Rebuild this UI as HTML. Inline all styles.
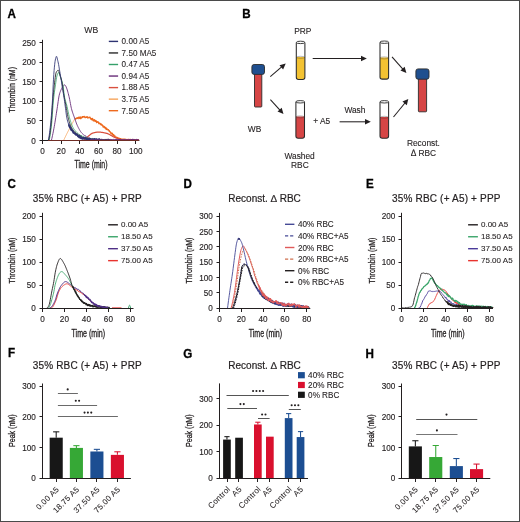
<!DOCTYPE html>
<html><head><meta charset="utf-8"><style>
html,body{margin:0;padding:0;background:#fff;width:520px;height:522px;overflow:hidden}
svg{display:block;will-change:transform}
text{font-family:"Liberation Sans", sans-serif}
</style></head><body>
<svg width="520" height="522" viewBox="0 0 520 522">
<rect x="0" y="0" width="520" height="522" fill="#ffffff"/>
<text transform="translate(7.60 17.60) scale(0.97 1)" font-size="12" text-anchor="start" font-weight="bold" fill="#000" stroke="#000" stroke-width="0.3">A</text>
<text transform="translate(242.30 18.20) scale(0.97 1)" font-size="12" text-anchor="start" font-weight="bold" fill="#000" stroke="#000" stroke-width="0.3">B</text>
<text transform="translate(7.60 188.40) scale(0.97 1)" font-size="12" text-anchor="start" font-weight="bold" fill="#000" stroke="#000" stroke-width="0.3">C</text>
<text transform="translate(183.60 188.40) scale(0.97 1)" font-size="12" text-anchor="start" font-weight="bold" fill="#000" stroke="#000" stroke-width="0.3">D</text>
<text transform="translate(366.00 188.40) scale(0.97 1)" font-size="12" text-anchor="start" font-weight="bold" fill="#000" stroke="#000" stroke-width="0.3">E</text>
<text transform="translate(8.00 357.20) scale(0.97 1)" font-size="12" text-anchor="start" font-weight="bold" fill="#000" stroke="#000" stroke-width="0.3">F</text>
<text transform="translate(183.20 357.60) scale(0.97 1)" font-size="12" text-anchor="start" font-weight="bold" fill="#000" stroke="#000" stroke-width="0.3">G</text>
<text transform="translate(365.60 357.60) scale(0.97 1)" font-size="12" text-anchor="start" font-weight="bold" fill="#000" stroke="#000" stroke-width="0.3">H</text>
<text transform="translate(91.20 32.50) scale(0.9 1)" font-size="9.6" text-anchor="middle" font-weight="normal" fill="#231f20" stroke="#231f20" stroke-width="0.12">WB</text>
<polyline points="63.80,140.00 64.15,139.26 64.50,138.53 64.85,137.81 65.20,137.08 65.55,136.36 65.90,135.65 66.25,134.94 66.60,134.23 66.95,133.53 67.30,132.83 67.65,132.13 68.00,131.44 68.35,130.76 68.70,130.08 69.05,129.40 69.40,128.73 69.75,128.06 70.10,127.40 70.45,126.74 70.80,126.08 71.15,125.43 71.50,124.78 71.85,124.13 72.20,123.49 72.55,122.85 72.90,122.22 73.25,121.59 73.60,120.96 73.95,120.34 74.30,119.72 74.65,119.11 75.00,118.50" fill="none" stroke="#f6a45c" stroke-width="0.8" stroke-linejoin="round" />
<polyline points="75.00,118.41 75.35,118.56 75.70,119.16 76.05,118.28 76.40,118.31 76.75,118.40 77.10,117.62 77.45,118.16 77.80,118.33 78.15,118.57 78.50,117.27 78.85,117.60 79.20,117.17 79.55,118.41 79.90,118.16 80.25,116.94 80.60,118.59 80.95,118.51 81.30,117.90 81.65,117.77 82.00,116.90 82.35,116.59 82.70,117.46 83.05,116.56 83.40,116.75 83.75,116.79 84.10,116.36 84.45,117.10 84.80,117.02 85.15,117.71 85.50,117.10 85.85,117.29 86.20,117.02 86.55,117.30 86.90,116.92 87.25,116.61 87.60,117.95 87.95,118.02 88.30,117.84 88.65,117.73 89.00,117.17 89.35,117.18 89.70,117.47 90.05,117.27 90.40,118.72 90.75,118.26 91.10,119.27 91.45,118.64 91.80,119.86 92.15,119.85 92.50,118.50 92.85,119.06 93.20,120.50 93.55,119.90 93.90,121.01 94.25,120.16 94.60,119.78 94.95,120.99 95.30,121.47 95.65,120.76 96.00,120.64 96.35,121.30 96.70,122.65 97.05,122.50 97.40,121.56 97.75,122.01 98.10,121.97 98.45,122.11 98.80,123.66 99.15,122.77 99.50,123.69 99.85,123.72 100.20,123.48 100.55,124.69 100.90,123.85 101.25,125.01 101.60,124.31 101.95,125.10 102.30,124.97 102.65,125.33 103.00,126.85 103.35,126.81 103.70,126.18 104.05,127.49 104.40,126.56 104.75,127.17 105.10,128.28 105.45,128.19 105.80,127.50 106.15,129.40 106.50,128.30 106.85,128.68 107.20,129.90 107.55,129.40 107.90,129.65 108.25,129.55 108.60,129.88 108.95,131.06 109.30,130.75 109.65,131.69 110.00,131.57 110.35,132.02 110.70,133.24 111.05,132.71 111.40,133.21 111.75,134.07 112.10,133.18 112.45,133.48 112.80,135.18 113.15,135.36 113.50,134.67 113.85,134.89 114.20,136.20 114.55,136.87 114.90,135.82 115.25,136.90 115.60,137.11 115.95,137.18 116.30,137.27 116.65,137.25 117.00,137.36 117.35,138.05 117.70,137.75 118.05,138.17 118.40,138.02 118.75,138.49 119.10,138.47 119.45,138.40 119.80,138.44 120.15,138.87 120.50,138.58 120.85,138.77 121.20,139.05 121.55,139.30 121.90,139.23 122.25,139.09 122.60,139.53 122.95,139.15 123.30,139.07 123.65,139.25 124.00,139.38 124.35,139.17 124.70,139.25 125.05,139.39 125.40,139.52 125.75,139.28 126.10,139.43 126.45,139.76 126.80,139.83 127.15,139.65 127.50,139.69 127.85,139.64 128.20,139.38 128.55,139.33 128.90,139.34 129.25,139.88 129.60,139.77 129.95,139.94 130.30,139.38 130.65,139.76 131.00,139.68 131.35,139.84 131.70,139.60 132.05,140.00 132.40,139.47 132.75,139.76 133.10,139.88 133.45,139.99 133.80,139.90 134.15,139.88 134.50,139.94 134.85,140.00 135.20,139.69 135.55,139.89 135.90,140.00 136.25,140.00 136.60,139.74 136.95,139.97 137.30,140.00 137.65,139.84 138.00,139.87 138.35,139.73 138.70,139.85" fill="none" stroke="#ee6a1f" stroke-width="1.3" stroke-linejoin="round" />
<polyline points="84.00,139.80 84.35,139.49 84.70,139.19 85.05,138.89 85.40,138.59 85.75,138.30 86.10,138.01 86.45,137.72 86.80,137.44 87.15,137.16 87.50,136.88 87.85,136.61 88.20,136.35 88.55,136.07 88.90,135.78 89.25,135.48 89.60,135.19 89.95,134.89 90.30,134.60 90.65,134.32 91.00,134.06 91.35,133.81 91.70,133.59 92.05,133.39 92.40,133.22 92.75,133.08 93.10,132.97 93.45,132.88 93.80,132.79 94.15,132.71 94.50,132.62 94.85,132.54 95.20,132.47 95.55,132.40 95.90,132.34 96.25,132.28 96.60,132.23 96.95,132.19 97.30,132.15 97.65,132.13 98.00,132.11 98.35,132.10 98.70,132.10 99.05,132.11 99.40,132.12 99.75,132.14 100.10,132.17 100.45,132.20 100.80,132.23 101.15,132.27 101.50,132.32 101.85,132.37 102.20,132.42 102.55,132.48 102.90,132.54 103.25,132.60 103.60,132.67 103.95,132.74 104.30,132.81 104.65,132.89 105.00,132.96 105.35,133.04 105.70,133.12 106.05,133.20 106.40,133.28 106.75,133.36 107.10,133.46 107.45,133.58 107.80,133.72 108.15,133.86 108.50,134.02 108.85,134.20 109.20,134.38 109.55,134.56 109.90,134.76 110.25,134.96 110.60,135.16 110.95,135.37 111.30,135.57 111.65,135.78 112.00,135.98 112.35,136.18 112.70,136.38 113.05,136.57 113.40,136.75 113.75,136.93 114.10,137.09 114.45,137.24 114.80,137.38 115.15,137.52 115.50,137.67 115.85,137.83 116.20,137.98 116.55,138.13 116.90,138.29 117.25,138.44 117.60,138.59 117.95,138.73 118.30,138.87 118.65,139.00 119.00,139.12 119.35,139.23 119.70,139.32 120.05,139.41 120.40,139.48 120.75,139.54 121.10,139.58 121.45,139.60 121.80,139.61 122.15,139.62 122.50,139.62 122.85,139.63 123.20,139.64 123.55,139.65 123.90,139.66 124.25,139.66 124.60,139.67 124.95,139.68 125.30,139.68 125.65,139.69 126.00,139.70 126.35,139.70 126.70,139.71 127.05,139.71 127.40,139.72 127.75,139.72 128.10,139.73 128.45,139.73 128.80,139.74 129.15,139.74 129.50,139.75 129.85,139.75 130.20,139.76 130.55,139.76 130.90,139.76 131.25,139.77 131.60,139.77 131.95,139.77 132.30,139.77 132.65,139.78 133.00,139.78 133.35,139.78 133.70,139.78 134.05,139.79 134.40,139.79 134.75,139.79 135.10,139.79 135.45,139.79 135.80,139.79 136.15,139.80 136.50,139.80 136.85,139.80 137.20,139.80 137.55,139.80 137.90,139.80 138.25,139.80 138.60,139.80 138.95,139.80" fill="none" stroke="#d9503f" stroke-width="1.25" stroke-linejoin="round" />
<polyline points="51.50,140.00 51.85,138.51 52.20,136.95 52.55,135.33 52.90,133.65 53.25,131.91 53.60,130.12 53.95,128.27 54.30,126.34 54.65,124.31 55.00,122.19 55.35,120.00 55.70,117.77 56.05,115.51 56.40,113.25 56.75,111.01 57.10,108.80 57.45,106.50 57.80,104.04 58.15,101.55 58.50,99.17 58.85,97.01 59.20,95.22 59.55,93.87 59.90,92.73 60.25,91.72 60.60,90.82 60.95,90.01 61.30,89.28 61.65,88.59 62.00,87.96 62.35,87.37 62.70,86.83 63.05,86.34 63.40,85.91 63.75,85.50 64.10,85.09 64.45,84.83 64.80,84.86 65.15,85.19 65.50,85.70 65.85,86.25 66.20,87.00 66.55,87.91 66.90,88.90 67.25,89.95 67.60,91.10 67.95,92.34 68.30,93.65 68.65,95.03 69.00,96.46 69.35,97.96 69.70,99.66 70.05,101.52 70.40,103.44 70.75,105.33 71.10,107.08 71.45,108.61 71.80,109.90 72.15,111.08 72.50,112.19 72.85,113.22 73.20,114.22 73.55,115.19 73.90,116.16 74.25,117.14 74.60,118.15 74.95,119.16 75.30,120.17 75.65,121.16 76.00,122.14 76.35,123.09 76.70,124.00 77.05,124.86 77.40,125.66 77.75,126.40 78.10,127.11 78.45,127.79 78.80,128.47 79.15,129.12 79.50,129.74 79.85,130.35 80.20,130.92 80.55,131.46 80.90,131.96 81.25,132.43 81.60,132.86 81.95,133.25 82.30,133.60 82.65,133.93 83.00,134.25 83.35,134.55 83.70,134.83 84.05,135.10 84.40,135.36 84.75,135.61 85.10,135.95 85.45,135.64 85.80,136.42 86.15,136.98 86.50,137.06 86.85,137.10 87.20,136.95 87.55,137.49 87.90,137.52 88.25,137.57 88.60,138.15 88.95,137.57 89.30,138.40 89.65,137.84 90.00,138.56 90.35,138.58 90.70,138.45 91.05,139.02 91.40,138.91 91.75,139.09 92.10,139.45 92.45,138.83 92.80,138.63 93.15,138.96 93.50,139.37 93.85,138.94 94.20,138.94 94.55,139.71 94.90,139.50 95.25,139.31 95.60,139.79 95.95,139.25 96.30,139.61 96.65,139.17 97.00,139.42 97.35,139.82 97.70,139.94 98.05,139.93 98.40,139.44 98.75,139.66 99.10,139.40 99.45,139.23 99.80,139.59 100.15,139.94 100.50,139.95 100.85,139.82 101.20,140.00 101.55,139.40 101.90,139.29 102.25,139.58 102.60,139.41 102.95,139.35 103.30,139.55 103.65,139.77 104.00,139.64 104.35,139.46 104.70,139.99 105.05,140.00 105.40,139.61 105.75,139.24 106.10,139.20 106.45,140.00 106.80,139.21 107.15,139.88 107.50,139.75 107.85,139.49 108.20,139.98 108.55,139.21 108.90,139.33 109.25,139.65 109.60,139.22 109.95,140.00 110.30,139.44 110.65,139.35 111.00,139.25 111.35,139.84 111.70,139.66 112.05,139.85 112.40,139.87 112.75,140.00 113.10,140.00 113.45,139.91 113.80,139.43 114.15,139.71 114.50,139.41 114.85,139.25 115.20,139.71 115.55,139.95 115.90,139.42 116.25,139.52 116.60,139.59 116.95,139.94 117.30,139.77 117.65,139.87 118.00,140.00 118.35,139.65 118.70,140.00 119.05,140.00 119.40,139.35 119.75,140.00 120.10,139.99 120.45,139.39 120.80,139.72 121.15,139.89 121.50,140.00 121.85,139.65 122.20,139.84 122.55,140.00 122.90,140.00 123.25,140.00 123.60,139.74 123.95,139.93 124.30,139.48 124.65,140.00 125.00,140.00 125.35,139.92 125.70,140.00 126.05,139.50 126.40,140.00 126.75,140.00 127.10,140.00 127.45,139.82 127.80,140.00 128.15,139.61 128.50,140.00 128.85,140.00 129.20,139.64 129.55,139.38 129.90,139.73 130.25,139.84 130.60,140.00 130.95,139.78 131.30,139.32 131.65,140.00 132.00,139.36 132.35,140.00 132.70,139.47 133.05,139.63 133.40,140.00 133.75,139.44 134.10,139.45 134.45,139.82 134.80,140.00 135.15,140.00 135.50,139.99 135.85,140.00 136.20,139.79 136.55,140.00 136.90,139.39 137.25,139.52 137.60,139.83 137.95,139.59" fill="none" stroke="#682c78" stroke-width="0.9" stroke-linejoin="round" />
<polyline points="49.20,140.00 49.55,138.62 49.90,136.83 50.25,134.69 50.60,132.26 50.95,129.58 51.30,126.71 51.65,123.59 52.00,119.56 52.35,114.85 52.70,109.89 53.05,105.13 53.40,101.00 53.75,97.69 54.10,94.71 54.45,91.97 54.80,89.42 55.15,87.00 55.50,84.65 55.85,82.22 56.20,79.87 56.55,77.76 56.90,76.04 57.25,74.87 57.60,73.96 57.95,73.19 58.30,72.66 58.65,72.51 59.00,72.92 59.35,73.80 59.70,74.92 60.05,76.06 60.40,77.04 60.75,77.97 61.10,78.90 61.45,79.87 61.80,80.90 62.15,82.04 62.50,83.32 62.85,84.78 63.20,86.72 63.55,89.39 63.90,92.34 64.25,95.12 64.60,97.30 64.95,98.87 65.30,100.21 65.65,101.40 66.00,102.53 66.35,103.70 66.70,105.00 67.05,106.47 67.40,108.06 67.75,109.72 68.10,111.42 68.45,113.11 68.80,114.77 69.15,116.33 69.50,117.77 69.85,119.03 70.20,120.17 70.55,121.27 70.90,122.33 71.25,123.35 71.60,124.32 71.95,125.23 72.30,126.08 72.65,126.85 73.00,127.55 73.35,128.16 73.70,128.70 74.05,129.20 74.40,129.69 74.75,130.15 75.10,130.59 75.45,131.01 75.80,131.41 76.15,131.80 76.50,132.16 76.85,132.51 77.20,132.83 77.55,133.15 77.90,133.44 78.25,133.95 78.60,134.13 78.95,134.27 79.30,134.83 79.65,134.77 80.00,134.73 80.35,135.01 80.70,135.68 81.05,135.93 81.40,135.43 81.75,136.27 82.10,136.57 82.45,136.30 82.80,136.52 83.15,136.31 83.50,136.81 83.85,136.93 84.20,137.18 84.55,136.75 84.90,137.83 85.25,137.51 85.60,137.51 85.95,138.03 86.30,137.91 86.65,137.94 87.00,138.24 87.35,137.71 87.70,138.27 88.05,138.22 88.40,138.84 88.75,138.89 89.10,138.31 89.45,138.58 89.80,138.31 90.15,138.68 90.50,139.13 90.85,139.28 91.20,138.92 91.55,138.82 91.90,138.76 92.25,139.24 92.60,139.60 92.95,138.85 93.30,139.55 93.65,138.83 94.00,139.04 94.35,139.11 94.70,139.60 95.05,139.27 95.40,139.32 95.75,139.61 96.10,139.11 96.45,139.75 96.80,139.15 97.15,139.56 97.50,139.31 97.85,139.27 98.20,139.61 98.55,139.53 98.90,139.48 99.25,139.53 99.60,139.66 99.95,139.30 100.30,139.35 100.65,139.79 101.00,139.81 101.35,139.71 101.70,140.00 102.05,139.81 102.40,140.00 102.75,139.45 103.10,139.96 103.45,140.00 103.80,140.00 104.15,139.56 104.50,139.57 104.85,140.00 105.20,139.48 105.55,140.00 105.90,140.00 106.25,139.41 106.60,139.52 106.95,140.00 107.30,139.55 107.65,139.39 108.00,140.00 108.35,139.72 108.70,140.00 109.05,139.42 109.40,139.70 109.75,139.99" fill="none" stroke="#35a06a" stroke-width="0.8" stroke-linejoin="round" />
<polyline points="48.60,140.00 48.95,138.93 49.30,137.36 49.65,135.37 50.00,133.02 50.35,130.40 50.70,127.55 51.05,124.55 51.40,120.69 51.75,115.88 52.10,110.58 52.45,105.27 52.80,100.40 53.15,96.35 53.50,92.61 53.85,89.07 54.20,85.80 54.55,82.82 54.90,80.16 55.25,77.51 55.60,75.05 55.95,73.13 56.30,72.11 56.65,71.55 57.00,71.06 57.35,70.68 57.70,70.40 58.05,70.24 58.40,70.23 58.75,70.76 59.10,71.77 59.45,73.03 59.80,74.33 60.15,75.46 60.50,76.55 60.85,77.67 61.20,78.89 61.55,80.26 61.90,81.86 62.25,83.85 62.60,86.13 62.95,88.59 63.30,91.10 63.65,93.56 64.00,95.83 64.35,97.82 64.70,99.62 65.05,101.33 65.40,103.02 65.75,104.75 66.10,106.59 66.45,108.57 66.80,110.60 67.15,112.63 67.50,114.58 67.85,116.40 68.20,118.02 68.55,119.38 68.90,120.59 69.25,121.73 69.60,122.82 69.95,123.84 70.30,124.80 70.65,125.68 71.00,126.50 71.35,127.24 71.70,127.90 72.05,128.48 72.40,129.01 72.75,129.53 73.10,130.02 73.45,130.49 73.80,130.93 74.15,131.36 74.50,131.76 74.85,132.15 75.20,131.93 75.55,132.50 75.90,133.41 76.25,133.99 76.60,134.35 76.95,133.61 77.30,134.33 77.65,134.88 78.00,134.80 78.35,135.24 78.70,134.86 79.05,134.93 79.40,135.18 79.75,135.29 80.10,136.10 80.45,136.25 80.80,136.50 81.15,136.16 81.50,136.38 81.85,136.57 82.20,137.49 82.55,137.82 82.90,137.88 83.25,137.02 83.60,137.11 83.95,138.30 84.30,137.82 84.65,138.29 85.00,137.86 85.35,138.12 85.70,138.26 86.05,138.23 86.40,138.50 86.75,137.86 87.10,138.75 87.45,138.98 87.80,138.24 88.15,138.63 88.50,139.03 88.85,138.68 89.20,138.48 89.55,138.50 89.90,138.96 90.25,138.42 90.60,139.51 90.95,139.45 91.30,139.37 91.65,139.60 92.00,139.36 92.35,139.13 92.70,139.40 93.05,139.32 93.40,139.92 93.75,139.74 94.10,139.11 94.45,139.91 94.80,139.73 95.15,139.79 95.50,139.86 95.85,139.38 96.20,139.98 96.55,139.98 96.90,139.77 97.25,139.87 97.60,139.88 97.95,139.46 98.30,139.85 98.65,139.08 99.00,139.42 99.35,139.58 99.70,139.04 100.05,139.46 100.40,139.81 100.75,139.81 101.10,139.35 101.45,140.00 101.80,139.89 102.15,139.50 102.50,139.90 102.85,139.80 103.20,139.76 103.55,139.60 103.90,140.00 104.25,139.91 104.60,139.99 104.95,140.00 105.30,140.00 105.65,139.19 106.00,139.91 106.35,140.00 106.70,139.49 107.05,139.67 107.40,139.25 107.75,139.43 108.10,139.64 108.45,139.31 108.80,139.50 109.15,140.00 109.50,139.86 109.85,139.81" fill="none" stroke="#2a2a2a" stroke-width="0.9" stroke-linejoin="round" />
<polyline points="48.40,140.00 48.70,138.53 49.00,136.80 49.30,134.81 49.60,132.61 49.90,130.22 50.20,127.68 50.50,125.00 50.80,122.13 51.10,118.97 51.40,115.51 51.70,111.73 52.00,107.63 52.30,103.17 52.60,98.23 52.90,91.72 53.20,84.82 53.50,79.21 53.80,74.47 54.10,70.44 54.40,67.17 54.70,64.24 55.00,61.78 55.30,60.00 55.60,58.65 55.90,57.47 56.20,56.62 56.50,56.30 56.80,56.75 57.10,57.83 57.40,59.16 57.70,60.39 58.00,61.64 58.30,63.01 58.60,64.50 58.90,66.20 59.20,68.07 59.50,69.89 59.80,71.65 60.10,73.40 60.40,75.14 60.70,76.92 61.00,78.74 61.30,80.65 61.60,82.71 61.90,84.82 62.20,86.86 62.50,88.72 62.80,90.44 63.10,92.09 63.40,93.74 63.70,95.45 64.00,97.30 64.30,99.35 64.60,101.55 64.90,103.80 65.20,106.00 65.50,108.24 65.80,110.60 66.10,112.96 66.40,115.19 66.70,117.17 67.00,118.77 67.30,119.98 67.60,121.08 67.90,122.09 68.20,123.03 68.50,123.90 68.80,124.71 69.10,125.45 69.40,126.13 69.70,126.77 70.00,127.35 70.30,127.90 70.60,128.40 70.90,128.88 71.20,129.34 71.50,129.78 71.80,130.21 72.10,130.62 72.40,131.01 72.70,131.39 73.00,131.75 73.30,132.10 73.60,132.43 73.90,132.74 74.20,133.05 74.50,133.33 74.80,133.61 75.10,133.87 75.40,134.12 75.70,134.36 76.00,134.59 76.30,134.80 76.60,135.01 76.90,135.21 77.20,135.41 77.50,135.60 77.80,135.79 78.10,135.98 78.40,136.16 78.70,136.33 79.00,136.50 79.30,136.67 79.60,136.83 79.90,136.98 80.20,137.13 80.50,137.27 80.80,137.41 81.10,137.54 81.40,137.66 81.70,137.78 82.00,137.89 82.30,137.99 82.60,138.08 82.90,138.17 83.20,138.25 83.50,138.32 83.80,138.39 84.10,138.46 84.40,138.53 84.70,138.60 85.00,138.66 85.30,138.72 85.60,138.78 85.90,138.84 86.20,138.90 86.50,138.96 86.80,139.01 87.10,139.07 87.40,139.12 87.70,139.17 88.00,139.21 88.30,139.26 88.60,139.30 88.90,139.34 89.20,139.38 89.50,139.41 89.80,139.44 90.10,139.47 90.40,139.50 90.70,139.53 91.00,139.55 91.30,139.57 91.60,139.59 91.90,139.60 92.20,139.61 92.50,139.62 92.80,139.64 93.10,139.65 93.40,139.66 93.70,139.67 94.00,139.68 94.30,139.69 94.60,139.70 94.90,139.71 95.20,139.72 95.50,139.73 95.80,139.74 96.10,139.75 96.40,139.75 96.70,139.76 97.00,139.77 97.30,139.77 97.60,139.78 97.90,139.78 98.20,139.79 98.50,139.79 98.80,139.79 99.10,139.80 99.40,139.80 99.70,139.80 100.00,139.80" fill="none" stroke="#2e3372" stroke-width="0.85" stroke-linejoin="round" />
<polyline points="68.50,124.34 68.80,124.42 69.10,125.98 69.40,126.11 69.70,127.14 70.00,126.50 70.30,128.05 70.60,128.87 70.90,128.05 71.20,130.10 71.50,129.16 71.80,130.14 72.10,130.00 72.40,130.98 72.70,131.57 73.00,130.94 73.30,132.88 73.60,132.27 73.90,132.78 74.20,133.21 74.50,133.08 74.80,133.22 75.10,134.15 75.40,134.23 75.70,133.97 76.00,134.98 76.30,134.43 76.60,134.13 76.90,134.75 77.20,134.58 77.50,134.98 77.80,136.25 78.10,135.78 78.40,136.87 78.70,136.78 79.00,135.69 79.30,137.55 79.60,137.63 79.90,136.21 80.20,137.86 80.50,137.14 80.80,137.37 81.10,138.39 81.40,137.20 81.70,137.82 82.00,138.67 82.30,138.39 82.60,138.03 82.90,139.03 83.20,138.82 83.50,138.51 83.80,137.70 84.10,138.69 84.40,138.45 84.70,138.06 85.00,137.85 85.30,138.77 85.60,138.11 85.90,138.74 86.20,139.20 86.50,138.88 86.80,138.59 87.10,139.21 87.40,138.97 87.70,139.67 88.00,139.27 88.30,140.00 88.60,140.00 88.90,139.76 89.20,138.90 89.50,138.72 89.80,140.00 90.10,139.99 90.40,139.73 90.70,139.27 91.00,139.14 91.30,139.90 91.60,139.70 91.90,139.77 92.20,139.85 92.50,140.00 92.80,139.08 93.10,139.20 93.40,140.00 93.70,140.00 94.00,140.00 94.30,138.86 94.60,138.91 94.90,139.30 95.20,139.59 95.50,139.95 95.80,139.02 96.10,139.82 96.40,138.98 96.70,139.02 97.00,140.00 97.30,139.86 97.60,140.00 97.90,139.56 98.20,139.75 98.50,139.27 98.80,139.51 99.10,140.00 99.40,140.00 99.70,139.03 100.00,139.12" fill="none" stroke="#2e3372" stroke-width="1.7" stroke-linejoin="round" />
<polyline points="90.00,139.91 90.35,139.73 90.70,139.87 91.05,139.32 91.40,139.53 91.75,139.37 92.10,139.92 92.45,139.48 92.80,139.77 93.15,140.00 93.50,139.44 93.85,139.66 94.20,139.86 94.55,140.00 94.90,139.55 95.25,139.49 95.60,139.22 95.95,140.00 96.30,139.20 96.65,139.21 97.00,139.69 97.35,139.61 97.70,139.82 98.05,139.43 98.40,139.91 98.75,139.21 99.10,139.35 99.45,139.80 99.80,139.22 100.15,139.45 100.50,139.87 100.85,139.84 101.20,139.43 101.55,139.29 101.90,139.51 102.25,139.88 102.60,139.52 102.95,139.27 103.30,139.86 103.65,139.72 104.00,140.00 104.35,140.00 104.70,140.00 105.05,139.60 105.40,139.97 105.75,139.47 106.10,139.48 106.45,139.57 106.80,140.00 107.15,140.00 107.50,139.42 107.85,139.53 108.20,139.54 108.55,139.54 108.90,139.57 109.25,139.57 109.60,139.37 109.95,139.75 110.30,139.98 110.65,139.72 111.00,140.00 111.35,139.75 111.70,139.37 112.05,139.95 112.40,140.00 112.75,139.47 113.10,139.22 113.45,139.71 113.80,139.74 114.15,139.77 114.50,140.00 114.85,139.85 115.20,140.00 115.55,139.27 115.90,139.75 116.25,140.00 116.60,139.29 116.95,139.29 117.30,139.95 117.65,140.00 118.00,139.30 118.35,139.85 118.70,139.36 119.05,139.96 119.40,139.87 119.75,139.47 120.10,139.44 120.45,139.99 120.80,139.75 121.15,139.99 121.50,139.62 121.85,139.57 122.20,140.00 122.55,139.91 122.90,139.73 123.25,139.77 123.60,139.96 123.95,139.95 124.30,140.00 124.65,139.65 125.00,140.00 125.35,139.91 125.70,140.00 126.05,140.00 126.40,140.00 126.75,140.00 127.10,140.00 127.45,139.89 127.80,139.78 128.15,139.97 128.50,140.00 128.85,139.68 129.20,139.68 129.55,139.41 129.90,140.00 130.25,140.00 130.60,139.64 130.95,139.43 131.30,139.47 131.65,139.69 132.00,139.56 132.35,140.00 132.70,139.33 133.05,139.58 133.40,139.39 133.75,139.93 134.10,140.00 134.45,139.46 134.80,139.35 135.15,139.74 135.50,139.87 135.85,140.00 136.20,139.32 136.55,139.40 136.90,139.48 137.25,139.51 137.60,139.53 137.95,140.00 138.30,139.89 138.65,139.52 139.00,139.48" fill="none" stroke="#682c78" stroke-width="0.9" stroke-linejoin="round" />
<line x1="42.50" y1="39.80" x2="42.50" y2="141.00" stroke="#231f20" stroke-width="1.0" />
<line x1="39.50" y1="140.50" x2="42.50" y2="140.50" stroke="#231f20" stroke-width="1.0" />
<text transform="translate(35.90 143.50) scale(0.93 1)" font-size="8.8" text-anchor="end" font-weight="normal" fill="#231f20" stroke="#231f20" stroke-width="0.14">0</text>
<line x1="39.50" y1="120.50" x2="42.50" y2="120.50" stroke="#231f20" stroke-width="1.0" />
<text transform="translate(35.90 123.90) scale(0.93 1)" font-size="8.8" text-anchor="end" font-weight="normal" fill="#231f20" stroke="#231f20" stroke-width="0.14">50</text>
<line x1="39.50" y1="101.50" x2="42.50" y2="101.50" stroke="#231f20" stroke-width="1.0" />
<text transform="translate(35.90 104.30) scale(0.93 1)" font-size="8.8" text-anchor="end" font-weight="normal" fill="#231f20" stroke="#231f20" stroke-width="0.14">100</text>
<line x1="39.50" y1="81.50" x2="42.50" y2="81.50" stroke="#231f20" stroke-width="1.0" />
<text transform="translate(35.90 84.70) scale(0.93 1)" font-size="8.8" text-anchor="end" font-weight="normal" fill="#231f20" stroke="#231f20" stroke-width="0.14">150</text>
<line x1="39.50" y1="62.50" x2="42.50" y2="62.50" stroke="#231f20" stroke-width="1.0" />
<text transform="translate(35.90 65.10) scale(0.93 1)" font-size="8.8" text-anchor="end" font-weight="normal" fill="#231f20" stroke="#231f20" stroke-width="0.14">200</text>
<line x1="39.50" y1="42.50" x2="42.50" y2="42.50" stroke="#231f20" stroke-width="1.0" />
<text transform="translate(35.90 45.50) scale(0.93 1)" font-size="8.8" text-anchor="end" font-weight="normal" fill="#231f20" stroke="#231f20" stroke-width="0.14">250</text>
<line x1="42.00" y1="140.50" x2="139.40" y2="140.50" stroke="#231f20" stroke-width="1.0" />
<line x1="42.50" y1="140.50" x2="42.50" y2="144.00" stroke="#231f20" stroke-width="1.0" />
<text transform="translate(42.50 154.10) scale(0.93 1)" font-size="8.8" text-anchor="middle" font-weight="normal" fill="#231f20" stroke="#231f20" stroke-width="0.14">0</text>
<line x1="61.50" y1="140.50" x2="61.50" y2="144.00" stroke="#231f20" stroke-width="1.0" />
<text transform="translate(61.14 154.10) scale(0.93 1)" font-size="8.8" text-anchor="middle" font-weight="normal" fill="#231f20" stroke="#231f20" stroke-width="0.14">20</text>
<line x1="79.50" y1="140.50" x2="79.50" y2="144.00" stroke="#231f20" stroke-width="1.0" />
<text transform="translate(79.78 154.10) scale(0.93 1)" font-size="8.8" text-anchor="middle" font-weight="normal" fill="#231f20" stroke="#231f20" stroke-width="0.14">40</text>
<line x1="98.50" y1="140.50" x2="98.50" y2="144.00" stroke="#231f20" stroke-width="1.0" />
<text transform="translate(98.42 154.10) scale(0.93 1)" font-size="8.8" text-anchor="middle" font-weight="normal" fill="#231f20" stroke="#231f20" stroke-width="0.14">60</text>
<line x1="117.50" y1="140.50" x2="117.50" y2="144.00" stroke="#231f20" stroke-width="1.0" />
<text transform="translate(117.06 154.10) scale(0.93 1)" font-size="8.8" text-anchor="middle" font-weight="normal" fill="#231f20" stroke="#231f20" stroke-width="0.14">80</text>
<line x1="135.50" y1="140.50" x2="135.50" y2="144.00" stroke="#231f20" stroke-width="1.0" />
<text transform="translate(135.70 154.10) scale(0.93 1)" font-size="8.8" text-anchor="middle" font-weight="normal" fill="#231f20" stroke="#231f20" stroke-width="0.14">100</text>
<line x1="48.00" y1="140.50" x2="139.00" y2="140.50" stroke="#b03a2a" stroke-width="1.0" opacity="0.55"/>
<text transform="translate(15.40 89.80) rotate(-90)" font-size="9.6" text-anchor="middle" font-weight="normal" fill="#231f20" stroke="#231f20" stroke-width="0.3" textLength="45.5" lengthAdjust="spacingAndGlyphs">Thrombin (nM)</text>
<text transform="translate(91.00 168.20)" font-size="10.0" text-anchor="middle" font-weight="normal" fill="#231f20" stroke="#231f20" stroke-width="0.3" textLength="33" lengthAdjust="spacingAndGlyphs">Time (min)</text>
<line x1="108.80" y1="41.40" x2="118.10" y2="41.40" stroke="#2e3372" stroke-width="1.4" />
<text transform="translate(121.60 44.20)" font-size="8.15" text-anchor="start" font-weight="normal" fill="#231f20" stroke="#231f20" stroke-width="0.08">0.00 A5</text>
<line x1="108.80" y1="52.95" x2="118.10" y2="52.95" stroke="#2a2a2a" stroke-width="1.4" />
<text transform="translate(121.60 55.75)" font-size="8.15" text-anchor="start" font-weight="normal" fill="#231f20" stroke="#231f20" stroke-width="0.08">7.50 MA5</text>
<line x1="108.80" y1="64.50" x2="118.10" y2="64.50" stroke="#35a06a" stroke-width="1.4" />
<text transform="translate(121.60 67.30)" font-size="8.15" text-anchor="start" font-weight="normal" fill="#231f20" stroke="#231f20" stroke-width="0.08">0.47 A5</text>
<line x1="108.80" y1="76.05" x2="118.10" y2="76.05" stroke="#682c78" stroke-width="1.4" />
<text transform="translate(121.60 78.85)" font-size="8.15" text-anchor="start" font-weight="normal" fill="#231f20" stroke="#231f20" stroke-width="0.08">0.94 A5</text>
<line x1="108.80" y1="87.60" x2="118.10" y2="87.60" stroke="#d9503f" stroke-width="1.4" />
<text transform="translate(121.60 90.40)" font-size="8.15" text-anchor="start" font-weight="normal" fill="#231f20" stroke="#231f20" stroke-width="0.08">1.88 A5</text>
<line x1="108.80" y1="99.15" x2="118.10" y2="99.15" stroke="#f6a45c" stroke-width="1.4" />
<text transform="translate(121.60 101.95)" font-size="8.15" text-anchor="start" font-weight="normal" fill="#231f20" stroke="#231f20" stroke-width="0.08">3.75 A5</text>
<line x1="108.80" y1="110.70" x2="118.10" y2="110.70" stroke="#ee6a1f" stroke-width="1.4" />
<text transform="translate(121.60 113.50)" font-size="8.15" text-anchor="start" font-weight="normal" fill="#231f20" stroke="#231f20" stroke-width="0.08">7.50 A5</text>
<text transform="translate(32.70 201.90)" font-size="10" text-anchor="start" font-weight="normal" fill="#231f20" letter-spacing="0.18" stroke="#231f20" stroke-width="0.2">35% RBC (+ A5) + PRP</text>
<polyline points="50.50,308.00 50.85,307.97 51.20,307.88 51.55,307.75 51.90,307.60 52.25,307.38 52.60,307.03 52.95,306.58 53.30,306.03 53.65,305.41 54.00,304.72 54.35,303.98 54.70,303.20 55.05,302.40 55.40,301.60 55.75,300.81 56.10,299.97 56.45,298.99 56.80,297.89 57.15,296.74 57.50,295.56 57.85,294.40 58.20,293.29 58.55,292.28 58.90,291.42 59.25,290.71 59.60,290.07 59.95,289.45 60.30,288.88 60.65,288.34 61.00,287.84 61.35,287.38 61.70,286.98 62.05,286.62 62.40,286.32 62.75,286.03 63.10,285.74 63.45,285.45 63.80,285.18 64.15,284.93 64.50,284.69 64.85,284.47 65.20,284.27 65.55,284.11 65.90,283.97 66.25,283.88 66.60,283.82 66.95,283.80 67.30,283.84 67.65,283.95 68.00,284.11 68.35,284.31 68.70,284.55 69.05,284.81 69.40,285.09 69.75,285.38 70.10,285.66 70.45,285.94 70.80,286.20 71.15,286.46 71.50,286.74 71.85,287.04 72.20,287.35 72.55,287.66 72.90,287.97 73.25,288.26 73.60,288.53 73.95,288.77 74.30,288.98 74.65,289.18 75.00,289.36 75.35,289.35 75.70,289.43 76.05,290.05 76.40,289.85 76.75,290.20 77.10,290.58 77.45,290.49 77.80,290.50 78.15,291.20 78.50,291.42 78.85,291.18 79.20,291.55 79.55,292.10 79.90,291.94 80.25,291.96 80.60,292.05 80.95,293.00 81.30,293.12 81.65,293.03 82.00,293.39 82.35,293.63 82.70,293.69 83.05,294.52 83.40,294.51 83.75,294.44 84.10,294.52 84.45,295.16 84.80,295.36 85.15,295.97 85.50,296.19 85.85,296.38 86.20,296.31 86.55,296.60 86.90,297.03 87.25,297.29 87.60,298.11 87.95,298.18 88.30,298.64 88.65,299.29 89.00,299.08 89.35,299.67 89.70,299.75 90.05,300.62 90.40,300.37 90.75,301.39 91.10,301.76 91.45,302.07 91.80,301.80 92.15,302.24 92.50,302.87 92.85,302.64 93.20,303.20 93.55,303.44 93.90,304.08 94.25,304.03 94.60,304.48 94.95,304.27 95.30,304.88 95.65,304.80 96.00,305.40 96.35,304.94 96.70,305.71 97.05,305.39 97.40,305.82 97.75,305.95 98.10,305.79 98.45,306.45 98.80,306.16 99.15,306.27 99.50,306.20 99.85,306.49 100.20,306.72 100.55,307.02 100.90,306.83 101.25,307.17 101.60,306.78 101.95,307.08 102.30,307.19 102.65,307.64 103.00,307.56 103.35,307.45 103.70,306.96 104.05,307.28 104.40,307.57 104.75,307.21 105.10,307.49 105.45,307.43 105.80,307.09 106.15,307.89 106.50,307.76 106.85,307.30 107.20,307.64 107.55,307.39 107.90,307.47 108.25,307.61 108.60,307.42 108.95,307.46 109.30,307.51 109.65,307.73 110.00,307.41" fill="none" stroke="#e8332e" stroke-width="0.9" stroke-linejoin="round" />
<polyline points="49.50,308.00 49.85,307.92 50.20,307.79 50.55,307.63 50.90,307.41 51.25,307.13 51.60,306.77 51.95,306.35 52.30,305.87 52.65,305.34 53.00,304.77 53.35,304.16 53.70,303.53 54.05,302.87 54.40,302.19 54.75,301.47 55.10,300.59 55.45,299.58 55.80,298.48 56.15,297.34 56.50,296.17 56.85,295.03 57.20,293.94 57.55,292.94 57.90,292.06 58.25,291.22 58.60,290.40 58.95,289.59 59.30,288.82 59.65,288.09 60.00,287.40 60.35,286.78 60.70,286.22 61.05,285.74 61.40,285.28 61.75,284.82 62.10,284.37 62.45,283.93 62.80,283.51 63.15,283.12 63.50,282.76 63.85,282.43 64.20,282.15 64.55,281.92 64.90,281.75 65.25,281.64 65.60,281.60 65.95,281.63 66.30,281.71 66.65,281.84 67.00,282.01 67.35,282.22 67.70,282.45 68.05,282.71 68.40,282.98 68.75,283.26 69.10,283.54 69.45,283.82 69.80,284.08 70.15,284.34 70.50,284.60 70.85,284.88 71.20,285.18 71.55,285.49 71.90,285.80 72.25,285.82 72.60,286.66 72.95,286.55 73.30,287.45 73.65,287.33 74.00,287.72 74.35,287.54 74.70,288.22 75.05,287.66 75.40,287.88 75.75,287.99 76.10,288.73 76.45,288.91 76.80,288.55 77.15,288.94 77.50,289.55 77.85,289.50 78.20,289.21 78.55,289.58 78.90,289.74 79.25,289.96 79.60,290.49 79.95,290.42 80.30,291.54 80.65,291.33 81.00,291.70 81.35,292.13 81.70,292.55 82.05,292.91 82.40,292.79 82.75,293.05 83.10,293.45 83.45,293.37 83.80,294.08 84.15,294.71 84.50,295.32 84.85,295.46 85.20,295.66 85.55,295.93 85.90,295.67 86.25,296.31 86.60,296.65 86.95,297.29 87.30,297.08 87.65,297.71 88.00,298.21 88.35,298.86 88.70,299.27 89.05,299.44 89.40,299.37 89.75,300.36 90.10,300.87 90.45,300.88 90.80,301.04 91.15,301.53 91.50,301.50 91.85,302.39 92.20,302.95 92.55,302.75 92.90,303.21 93.25,303.59 93.60,303.20 93.95,304.20 94.30,304.12 94.65,303.93 95.00,304.04 95.35,304.42 95.70,304.97 96.05,305.29 96.40,305.11 96.75,305.90 97.10,305.50 97.45,305.76 97.80,305.57 98.15,306.56 98.50,305.84 98.85,306.73 99.20,306.50 99.55,306.63 99.90,306.74 100.25,306.55 100.60,307.30 100.95,307.48 101.30,307.38 101.65,307.24 102.00,306.83 102.35,307.58 102.70,307.08 103.05,307.72 103.40,307.09 103.75,307.44 104.10,307.72 104.45,307.10 104.80,307.48 105.15,307.03 105.50,307.01 105.85,307.17 106.20,308.00 106.55,307.96 106.90,307.70 107.25,307.36 107.60,307.73 107.95,307.81 108.30,307.46 108.65,307.68 109.00,307.90 109.35,307.11 109.70,307.30" fill="none" stroke="#4e2f86" stroke-width="1.0" stroke-linejoin="round" />
<polyline points="48.30,308.00 48.65,307.70 49.00,307.26 49.35,306.71 49.70,306.09 50.05,305.40 50.40,304.54 50.75,303.48 51.10,302.28 51.45,301.01 51.80,299.72 52.15,298.47 52.50,297.21 52.85,295.92 53.20,294.56 53.55,293.11 53.90,291.52 54.25,289.60 54.60,287.55 54.95,285.72 55.30,284.25 55.65,282.92 56.00,281.69 56.35,280.56 56.70,279.50 57.05,278.50 57.40,277.54 57.75,276.65 58.10,275.83 58.45,275.10 58.80,274.41 59.15,273.75 59.50,273.14 59.85,272.64 60.20,272.30 60.55,272.06 60.90,271.84 61.25,271.68 61.60,271.60 61.95,271.63 62.30,271.74 62.65,271.94 63.00,272.21 63.35,272.54 63.70,272.91 64.05,273.31 64.40,273.73 64.75,274.15 65.10,274.56 65.45,274.95 65.80,275.32 66.15,275.71 66.50,276.11 66.85,276.52 67.20,276.96 67.55,277.41 67.90,277.88 68.25,278.38 68.60,278.90 68.95,279.46 69.30,280.08 69.65,280.74 70.00,281.44 70.35,282.17 70.70,282.90 71.05,283.65 71.40,284.39 71.75,285.12 72.10,285.83 72.45,286.51 72.80,287.15 73.15,287.79 73.50,288.41 73.85,289.03 74.20,289.64 74.55,290.25 74.90,290.85 75.25,291.46 75.60,292.09 75.95,292.74 76.30,293.40 76.65,294.07 77.00,294.73 77.35,295.39 77.70,296.03 78.05,296.62 78.40,296.95 78.75,297.70 79.10,298.37 79.45,298.52 79.80,299.22 80.15,299.39 80.50,300.01 80.85,300.18 81.20,300.77 81.55,300.62 81.90,301.45 82.25,301.33 82.60,302.28 82.95,302.27 83.30,302.43 83.65,302.64 84.00,303.05 84.35,303.32 84.70,303.59 85.05,303.78 85.40,303.74 85.75,304.31 86.10,304.35 86.45,304.52 86.80,304.31 87.15,304.48 87.50,304.73 87.85,305.14 88.20,304.97 88.55,305.09 88.90,305.14 89.25,305.64 89.60,305.28 89.95,305.17 90.30,305.81 90.65,306.04 91.00,305.99 91.35,305.96 91.70,306.16 92.05,305.87 92.40,306.16 92.75,305.79 93.10,305.89 93.45,306.20 93.80,306.29 94.15,306.25 94.50,306.01 94.85,306.57 95.20,306.47 95.55,306.28 95.90,306.37 96.25,306.47 96.60,306.38 96.95,306.27 97.30,306.98 97.65,307.05 98.00,306.84 98.35,307.03 98.70,306.70 99.05,307.04 99.40,306.60 99.75,307.04 100.10,306.93 100.45,307.22 100.80,306.61 101.15,307.19 101.50,306.68 101.85,307.04 102.20,307.40 102.55,306.67 102.90,306.89 103.25,306.97 103.60,307.01 103.95,306.83 104.30,307.52 104.65,307.49 105.00,307.18 105.35,307.17 105.70,307.38 106.05,306.97 106.40,306.99 106.75,307.71 107.10,307.26 107.45,307.43 107.80,307.81 108.15,307.87 108.50,307.48 108.85,307.29 109.20,307.39 109.55,307.91 109.90,307.91" fill="none" stroke="#3aa56a" stroke-width="0.9" stroke-linejoin="round" />
<polyline points="46.80,308.00 47.15,307.90 47.50,307.63 47.85,307.23 48.20,306.73 48.55,306.18 48.90,305.47 49.25,304.41 49.60,303.05 49.95,301.45 50.30,299.67 50.65,297.78 51.00,295.83 51.35,293.88 51.70,292.00 52.05,290.24 52.40,288.60 52.75,286.99 53.10,285.33 53.45,283.59 53.80,281.67 54.15,279.50 54.50,277.19 54.85,274.89 55.20,272.77 55.55,270.96 55.90,269.35 56.25,267.82 56.60,266.41 56.95,265.14 57.30,264.04 57.65,263.11 58.00,262.20 58.35,261.31 58.70,260.47 59.05,259.73 59.40,259.13 59.75,258.71 60.10,258.51 60.45,258.54 60.80,258.70 61.15,258.98 61.50,259.36 61.85,259.83 62.20,260.36 62.55,260.94 62.90,261.55 63.25,262.18 63.60,262.81 63.95,263.42 64.30,264.03 64.65,264.71 65.00,265.45 65.35,266.23 65.70,267.05 66.05,267.90 66.40,268.76 66.75,269.63 67.10,270.50 67.45,271.37 67.80,272.26 68.15,273.16 68.50,274.09 68.85,275.03 69.20,276.00 69.55,276.99 69.90,278.01 70.25,279.05 70.60,280.21 70.95,281.46 71.30,282.76 71.65,284.03 72.00,285.21 72.35,286.23 72.70,287.05 73.05,287.77 73.40,288.41 73.75,289.01 74.10,289.58 74.45,290.13 74.80,290.69 75.15,291.29 75.50,291.91 75.85,292.56 76.20,292.85 76.55,294.28 76.90,294.37 77.25,295.17 77.60,295.45 77.95,296.93 78.30,297.67 78.65,297.28 79.00,298.33 79.35,298.28 79.70,299.54 80.05,298.93 80.40,299.37 80.75,300.48 81.10,300.33 81.45,301.38 81.80,301.66 82.15,301.79 82.50,301.39 82.85,302.35 83.20,302.91 83.55,302.57 83.90,302.38 84.25,302.78 84.60,303.09 84.95,303.77 85.30,303.34 85.65,303.49 86.00,303.72 86.35,304.39 86.70,304.69 87.05,304.34 87.40,304.83 87.75,305.24 88.10,305.02 88.45,304.71 88.80,304.92 89.15,305.79 89.50,305.59 89.85,305.23 90.20,305.77 90.55,305.20 90.90,306.36 91.25,305.79 91.60,305.97 91.95,306.04 92.30,305.52 92.65,306.24 93.00,305.92 93.35,305.93 93.70,306.63 94.05,305.82 94.40,306.10 94.75,306.71 95.10,306.13 95.45,306.21 95.80,306.57 96.15,306.17 96.50,307.05 96.85,307.20 97.20,306.08 97.55,306.62 97.90,307.00 98.25,306.59 98.60,307.27 98.95,306.78 99.30,306.43 99.65,306.91 100.00,307.04 100.35,306.72 100.70,307.11 101.05,307.29 101.40,307.00 101.75,307.01 102.10,307.45 102.45,307.28 102.80,307.11 103.15,307.66 103.50,306.75 103.85,307.51 104.20,306.80 104.55,307.36 104.90,306.94 105.25,307.21 105.60,307.63 105.95,307.67 106.30,307.71 106.65,307.06 107.00,307.39 107.35,307.09 107.70,307.55 108.05,307.48 108.40,306.94 108.75,307.64 109.10,307.80 109.45,307.65 109.80,308.00" fill="none" stroke="#231f20" stroke-width="0.9" stroke-linejoin="round" />
<line x1="112.00" y1="307.50" x2="121.50" y2="307.50" stroke="#e8332e" stroke-width="0.6" />
<polyline points="72.50,286.09 72.90,286.76 73.30,287.26 73.70,288.73 74.10,289.34 74.50,290.06 74.90,290.47 75.30,292.03 75.70,291.59 76.10,293.68 76.50,293.89 76.90,294.61 77.30,295.76 77.70,295.61 78.10,296.17 78.50,297.10 78.90,297.29 79.30,298.29 79.70,299.28 80.10,299.57 80.50,299.58 80.90,300.50 81.30,300.09 81.70,301.64 82.10,300.96 82.50,301.44 82.90,301.61 83.30,302.76 83.70,303.27 84.10,303.47 84.50,302.56 84.90,303.35 85.30,303.49 85.70,303.44 86.10,304.83 86.50,303.52 86.90,304.41 87.30,305.01 87.70,305.53 88.10,304.34 88.50,304.98 88.90,305.59 89.30,304.59 89.70,305.04 90.10,306.19 90.50,305.11 90.90,305.61 91.30,305.55 91.70,305.84 92.10,305.36 92.50,305.35 92.90,306.95 93.30,306.64 93.70,306.64 94.10,305.88 94.50,305.96 94.90,306.48 95.30,306.02 95.70,306.41 96.10,307.20 96.50,306.32 96.90,306.31 97.30,307.37 97.70,306.81 98.10,305.93 98.50,306.54 98.90,306.97 99.30,306.05 99.70,306.54 100.10,307.14 100.50,307.45 100.90,307.05 101.30,307.57 101.70,306.94 102.10,306.88 102.50,307.65 102.90,306.97 103.30,307.67 103.70,306.83 104.10,307.11 104.50,306.91 104.90,307.56" fill="none" stroke="#231f20" stroke-width="1.3" stroke-linejoin="round" />
<polyline points="84.00,294.46 84.40,294.77 84.80,295.05 85.20,295.73 85.60,295.75 86.00,296.27 86.40,297.45 86.80,297.27 87.20,297.91 87.60,297.23 88.00,297.92 88.40,297.84 88.80,299.27 89.20,299.18 89.60,299.48 90.00,299.52 90.40,300.22 90.80,300.77 91.20,301.38 91.60,302.62 92.00,302.64 92.40,302.25 92.80,302.70 93.20,302.66 93.60,304.20 94.00,303.56 94.40,304.49 94.80,304.68 95.20,305.23 95.60,304.06 96.00,304.78 96.40,305.10 96.80,304.83 97.20,306.30 97.60,305.59 98.00,306.46 98.40,306.20 98.80,305.60 99.20,306.28 99.60,306.16 100.00,305.97 100.40,306.26 100.80,307.08 101.20,306.28 101.60,306.82 102.00,307.07 102.40,307.32 102.80,306.72 103.20,307.67 103.60,306.99 104.00,307.77 104.40,307.71 104.80,306.91 105.20,307.03 105.60,307.17 106.00,307.89 106.40,307.41 106.80,307.40 107.20,308.00 107.60,307.16 108.00,307.27" fill="none" stroke="#4e2f86" stroke-width="1.3" stroke-linejoin="round" />
<polyline points="128.50,308.00 128.85,306.46 129.20,305.55 129.55,305.21 129.90,305.47 130.25,306.42 130.60,308.00" fill="none" stroke="#3aa56a" stroke-width="1.0" stroke-linejoin="round" />
<line x1="42.50" y1="212.80" x2="42.50" y2="309.00" stroke="#231f20" stroke-width="1.0" />
<line x1="39.50" y1="308.50" x2="42.50" y2="308.50" stroke="#231f20" stroke-width="1.0" />
<text transform="translate(35.80 311.20) scale(0.93 1)" font-size="8.8" text-anchor="end" font-weight="normal" fill="#231f20" stroke="#231f20" stroke-width="0.14">0</text>
<line x1="39.50" y1="285.50" x2="42.50" y2="285.50" stroke="#231f20" stroke-width="1.0" />
<text transform="translate(35.80 288.20) scale(0.93 1)" font-size="8.8" text-anchor="end" font-weight="normal" fill="#231f20" stroke="#231f20" stroke-width="0.14">50</text>
<line x1="39.50" y1="262.50" x2="42.50" y2="262.50" stroke="#231f20" stroke-width="1.0" />
<text transform="translate(35.80 265.20) scale(0.93 1)" font-size="8.8" text-anchor="end" font-weight="normal" fill="#231f20" stroke="#231f20" stroke-width="0.14">100</text>
<line x1="39.50" y1="239.50" x2="42.50" y2="239.50" stroke="#231f20" stroke-width="1.0" />
<text transform="translate(35.80 242.20) scale(0.93 1)" font-size="8.8" text-anchor="end" font-weight="normal" fill="#231f20" stroke="#231f20" stroke-width="0.14">150</text>
<line x1="39.50" y1="216.50" x2="42.50" y2="216.50" stroke="#231f20" stroke-width="1.0" />
<text transform="translate(35.80 219.20) scale(0.93 1)" font-size="8.8" text-anchor="end" font-weight="normal" fill="#231f20" stroke="#231f20" stroke-width="0.14">200</text>
<line x1="42.00" y1="308.50" x2="133.50" y2="308.50" stroke="#231f20" stroke-width="1.0" />
<line x1="42.50" y1="308.50" x2="42.50" y2="312.00" stroke="#231f20" stroke-width="1.0" />
<text transform="translate(42.40 321.90) scale(0.93 1)" font-size="8.8" text-anchor="middle" font-weight="normal" fill="#231f20" stroke="#231f20" stroke-width="0.14">0</text>
<line x1="64.50" y1="308.50" x2="64.50" y2="312.00" stroke="#231f20" stroke-width="1.0" />
<text transform="translate(64.40 321.90) scale(0.93 1)" font-size="8.8" text-anchor="middle" font-weight="normal" fill="#231f20" stroke="#231f20" stroke-width="0.14">20</text>
<line x1="86.50" y1="308.50" x2="86.50" y2="312.00" stroke="#231f20" stroke-width="1.0" />
<text transform="translate(86.40 321.90) scale(0.93 1)" font-size="8.8" text-anchor="middle" font-weight="normal" fill="#231f20" stroke="#231f20" stroke-width="0.14">40</text>
<line x1="108.50" y1="308.50" x2="108.50" y2="312.00" stroke="#231f20" stroke-width="1.0" />
<text transform="translate(108.40 321.90) scale(0.93 1)" font-size="8.8" text-anchor="middle" font-weight="normal" fill="#231f20" stroke="#231f20" stroke-width="0.14">60</text>
<line x1="130.50" y1="308.50" x2="130.50" y2="312.00" stroke="#231f20" stroke-width="1.0" />
<text transform="translate(130.40 321.90) scale(0.93 1)" font-size="8.8" text-anchor="middle" font-weight="normal" fill="#231f20" stroke="#231f20" stroke-width="0.14">80</text>
<text transform="translate(15.40 260.60) rotate(-90)" font-size="9.6" text-anchor="middle" font-weight="normal" fill="#231f20" stroke="#231f20" stroke-width="0.3" textLength="46" lengthAdjust="spacingAndGlyphs">Thrombin (nM)</text>
<text transform="translate(88.30 336.60)" font-size="10.0" text-anchor="middle" font-weight="normal" fill="#231f20" stroke="#231f20" stroke-width="0.3" textLength="33.5" lengthAdjust="spacingAndGlyphs">Time (min)</text>
<line x1="108.10" y1="224.80" x2="117.90" y2="224.80" stroke="#231f20" stroke-width="1.4" />
<text transform="translate(121.00 227.40)" font-size="8.0" text-anchor="start" font-weight="normal" fill="#231f20" stroke="#231f20" stroke-width="0.08">0.00 A5</text>
<line x1="108.10" y1="236.75" x2="117.90" y2="236.75" stroke="#3aa56a" stroke-width="1.4" />
<text transform="translate(121.00 239.35)" font-size="8.0" text-anchor="start" font-weight="normal" fill="#231f20" stroke="#231f20" stroke-width="0.08">18.50 A5</text>
<line x1="108.10" y1="248.70" x2="117.90" y2="248.70" stroke="#4e2f86" stroke-width="1.4" />
<text transform="translate(121.00 251.30)" font-size="8.0" text-anchor="start" font-weight="normal" fill="#231f20" stroke="#231f20" stroke-width="0.08">37.50 A5</text>
<line x1="108.10" y1="260.65" x2="117.90" y2="260.65" stroke="#e8332e" stroke-width="1.4" />
<text transform="translate(121.00 263.25)" font-size="8.0" text-anchor="start" font-weight="normal" fill="#231f20" stroke="#231f20" stroke-width="0.08">75.00 A5</text>
<text transform="translate(228.20 201.90)" font-size="10" text-anchor="start" font-weight="normal" fill="#231f20" letter-spacing="0.03" stroke="#231f20" stroke-width="0.2">Reconst. ∆ RBC</text>
<polyline points="231.00,308.30 231.35,307.07 231.70,305.75 232.05,304.34 232.40,302.86 232.75,301.30 233.10,299.66 233.45,297.96 233.80,296.18 234.15,294.33 234.50,292.32 234.85,290.11 235.20,287.73 235.55,285.21 235.90,282.60 236.25,279.92 236.60,277.21 236.95,274.49 237.30,271.81 237.65,269.20 238.00,266.68 238.35,264.30 238.70,262.08 239.05,260.03 239.40,257.97 239.75,255.92 240.10,253.97 240.45,252.20 240.80,250.69 241.15,249.53 241.50,248.63 241.85,247.77 242.20,247.01 242.55,246.40 242.90,246.01 243.25,245.90 243.60,246.08 243.95,246.48 244.30,247.05 244.65,247.74 245.00,248.50 245.35,249.28 245.70,250.01 246.05,250.68 246.40,251.37 246.75,252.10 247.10,252.85 247.45,253.62 247.80,254.42 248.15,255.25 248.50,256.10 248.85,256.97 249.20,257.88 249.55,258.84 249.90,259.83 250.25,260.86 250.60,261.92 250.95,263.00 251.30,264.09 251.65,265.19 252.00,266.30 252.35,267.25 252.70,268.28 253.05,269.27 253.40,270.46 253.75,272.38 254.10,273.45 254.45,274.84 254.80,276.13 255.15,276.41 255.50,277.94 255.85,279.30 256.20,279.50 256.55,281.08 256.90,282.02 257.25,283.29 257.60,284.04 257.95,284.07 258.30,285.29 258.65,285.37 259.00,286.49 259.35,287.16 259.70,287.45 260.05,288.52 260.40,289.11 260.75,289.96 261.10,290.33 261.45,290.79 261.80,291.67 262.15,292.29 262.50,292.03 262.85,293.84 263.20,293.23 263.55,293.32 263.90,294.41 264.25,295.03 264.60,294.71 264.95,296.19 265.30,296.82 265.65,296.74 266.00,297.42 266.35,295.94 266.70,297.17 267.05,297.36 267.40,296.83 267.75,297.97 268.10,297.30 268.45,298.67 268.80,299.13 269.15,299.04 269.50,298.87 269.85,298.88 270.20,298.48 270.55,299.50 270.90,301.10 271.25,300.43 271.60,299.80 271.95,301.02 272.30,299.93 272.65,300.81 273.00,301.34 273.35,302.37 273.70,300.97 274.05,301.66 274.40,302.74 274.75,302.43 275.10,302.18 275.45,302.29 275.80,301.86 276.15,302.00 276.50,301.75 276.85,303.31 277.20,303.55 277.55,302.37 277.90,303.85 278.25,301.69 278.60,302.05 278.95,303.11 279.30,302.69 279.65,302.93 280.00,304.62 280.35,302.56 280.70,302.76 281.05,302.94 281.40,304.20 281.75,303.12 282.10,302.59 282.45,304.07 282.80,303.75 283.15,303.42 283.50,304.15 283.85,304.61 284.20,304.41 284.55,304.66 284.90,304.55 285.25,305.31 285.60,305.71 285.95,304.11 286.30,304.19 286.65,305.64 287.00,304.19 287.35,305.28 287.70,305.26 288.05,305.28 288.40,306.03 288.75,305.71 289.10,304.01 289.45,305.25 289.80,304.95 290.15,305.17 290.50,304.70 290.85,304.52 291.20,305.75 291.55,305.23 291.90,304.49 292.25,304.56 292.60,304.80 292.95,304.45 293.30,305.36 293.65,304.40 294.00,304.28 294.35,304.33 294.70,304.47 295.05,306.08 295.40,304.59 295.75,305.51 296.10,306.39 296.45,305.68 296.80,304.90 297.15,306.78 297.50,306.83 297.85,304.76 298.20,305.33 298.55,306.03 298.90,306.83 299.25,305.83 299.60,306.72 299.95,305.57 300.30,306.82 300.65,305.86 301.00,305.93 301.35,307.09 301.70,307.37 302.05,307.38 302.40,306.76 302.75,306.44 303.10,307.24 303.45,307.08 303.80,307.68 304.15,307.67 304.50,305.97 304.85,306.69 305.20,307.52 305.55,306.45 305.90,306.39 306.25,306.02 306.60,307.58 306.95,308.30 307.30,308.30 307.65,306.66 308.00,308.19 308.35,307.60 308.70,308.25" fill="none" stroke="#e05a5a" stroke-width="1.0" stroke-linejoin="round" />
<polyline points="232.00,308.30 232.35,306.93 232.70,305.50 233.05,304.00 233.40,302.45 233.75,300.84 234.10,299.17 234.45,297.44 234.80,295.65 235.15,293.79 235.50,291.76 235.85,289.57 236.20,287.26 236.55,284.84 236.90,282.35 237.25,279.82 237.60,277.29 237.95,274.77 238.30,272.30 238.65,269.91 239.00,267.63 239.35,265.50 239.70,263.53 240.05,261.76 240.40,260.08 240.75,258.44 241.10,256.88 241.45,255.42 241.80,254.10 242.15,252.95 242.50,252.00 242.85,251.14 243.20,250.30 243.55,249.55 243.90,248.95 244.25,248.58 244.60,248.51 244.95,248.68 245.30,249.04 245.65,249.54 246.00,250.14 246.35,250.80 246.70,251.46 247.05,252.09 247.40,252.74 247.75,253.46 248.10,254.23 248.45,255.05 248.80,255.90 249.15,256.79 249.50,257.69 249.85,258.61 250.20,259.53 250.55,260.50 250.90,261.52 251.25,262.56 251.60,263.63 251.95,264.72 252.30,265.69 252.65,267.43 253.00,268.59 253.35,268.56 253.70,270.49 254.05,270.93 254.40,271.99 254.75,273.42 255.10,275.06 255.45,276.44 255.80,276.43 256.15,277.72 256.50,278.40 256.85,280.04 257.20,280.97 257.55,281.81 257.90,282.67 258.25,284.15 258.60,285.03 258.95,285.14 259.30,285.99 259.65,286.98 260.00,287.87 260.35,288.82 260.70,288.80 261.05,289.84 261.40,290.32 261.75,291.26 262.10,290.60 262.45,291.28 262.80,291.68 263.15,294.39 263.50,293.15 263.85,294.28 264.20,293.80 264.55,294.79 264.90,294.42 265.25,296.24 265.60,295.50 265.95,297.08 266.30,296.47 266.65,296.64 267.00,297.59 267.35,297.56 267.70,297.54 268.05,297.25 268.40,297.53 268.75,299.92 269.10,298.63 269.45,298.25 269.80,298.73 270.15,299.72 270.50,301.25 270.85,299.37 271.20,301.29 271.55,300.47 271.90,300.46 272.25,301.64 272.60,300.74 272.95,300.01 273.30,301.44 273.65,301.87 274.00,301.92 274.35,301.16 274.70,303.02 275.05,302.96 275.40,303.43 275.75,302.12 276.10,303.27 276.45,303.11 276.80,301.81 277.15,301.54 277.50,302.03 277.85,302.01 278.20,302.01 278.55,302.86 278.90,303.99 279.25,302.95 279.60,303.58 279.95,302.37 280.30,302.99 280.65,305.03 281.00,302.65 281.35,304.08 281.70,304.90 282.05,304.93 282.40,304.86 282.75,304.06 283.10,305.18 283.45,305.31 283.80,305.21 284.15,305.84 284.50,303.59 284.85,305.85 285.20,304.48 285.55,305.31 285.90,304.17 286.25,305.93 286.60,303.67 286.95,305.14 287.30,304.27 287.65,304.73 288.00,304.71 288.35,305.49 288.70,305.93 289.05,304.80 289.40,305.54 289.75,304.83 290.10,304.67 290.45,306.33 290.80,304.84 291.15,304.28 291.50,304.94 291.85,306.03 292.20,304.68 292.55,306.10 292.90,305.62 293.25,306.01 293.60,304.73 293.95,304.59 294.30,304.72 294.65,305.30 295.00,305.56 295.35,304.50 295.70,305.83 296.05,305.62 296.40,305.45 296.75,306.05 297.10,307.18 297.45,305.28 297.80,307.08 298.15,305.67 298.50,306.85 298.85,305.22 299.20,307.55 299.55,306.15 299.90,307.58 300.25,305.70 300.60,306.24 300.95,307.07 301.30,305.74 301.65,306.04 302.00,307.15 302.35,307.90 302.70,306.33 303.05,306.03 303.40,306.53 303.75,308.24 304.10,306.11 304.45,307.43 304.80,306.82 305.15,307.57 305.50,306.51 305.85,307.63 306.20,308.30 306.55,308.30 306.90,307.85 307.25,307.60 307.60,307.84 307.95,306.74 308.30,308.30 308.65,308.30 309.00,307.88" fill="none" stroke="#d0704f" stroke-width="1.0" stroke-linejoin="round" stroke-dasharray="1.6,1.1"/>
<polyline points="227.50,308.30 227.85,305.64 228.20,303.01 228.55,300.41 228.90,297.84 229.25,295.31 229.60,292.81 229.95,290.35 230.30,287.94 230.65,285.62 231.00,283.34 231.35,281.08 231.70,278.79 232.05,276.44 232.40,274.00 232.75,271.43 233.10,268.74 233.45,265.98 233.80,263.19 234.15,260.40 234.50,257.66 234.85,255.01 235.20,252.48 235.55,249.84 235.90,247.23 236.25,244.92 236.60,243.20 236.95,241.86 237.30,240.59 237.65,239.50 238.00,238.68 238.35,238.25 238.70,238.23 239.05,238.39 239.40,238.69 239.75,239.11 240.10,239.62 240.45,240.22 240.80,240.87 241.15,241.57 241.50,242.29 241.85,243.11 242.20,244.20 242.55,245.51 242.90,246.93 243.25,248.39 243.60,249.80 243.95,251.26 244.30,252.79 244.65,254.36 245.00,255.94 245.35,257.49 245.70,258.99 246.05,260.41 246.40,261.80 246.75,263.16 247.10,264.49 247.45,265.81 247.80,267.12 248.15,268.41 248.50,269.72 248.85,271.02 249.20,272.29 249.55,273.50 249.90,274.65 250.25,275.77 250.60,276.84 250.95,277.85 251.30,278.76 251.65,279.58 252.00,280.36 252.35,281.32 252.70,281.75 253.05,282.42 253.40,282.91 253.75,284.01 254.10,284.61 254.45,285.15 254.80,285.17 255.15,286.45 255.50,286.79 255.85,287.51 256.20,288.03 256.55,288.95 256.90,288.51 257.25,289.39 257.60,290.50 257.95,290.68 258.30,290.65 258.65,291.64 259.00,292.40 259.35,292.16 259.70,293.17 260.05,292.72 260.40,294.19 260.75,294.01 261.10,294.12 261.45,295.25 261.80,295.41 262.15,296.75 262.50,296.83 262.85,297.11 263.20,296.70 263.55,298.28 263.90,296.18 264.25,298.57 264.60,298.44 264.95,297.50 265.30,299.20 265.65,298.52 266.00,298.96 266.35,300.04 266.70,298.51 267.05,298.94 267.40,300.09 267.75,298.81 268.10,300.25 268.45,301.04 268.80,300.46 269.15,299.98 269.50,301.61 269.85,301.92 270.20,301.86 270.55,301.44 270.90,302.52 271.25,302.38 271.60,300.85 271.95,301.55 272.30,300.99 272.65,300.96 273.00,301.89 273.35,303.36 273.70,303.40 274.05,301.66 274.40,301.94 274.75,302.59 275.10,303.90 275.45,303.41 275.80,304.26 276.15,302.22 276.50,304.71 276.85,302.78 277.20,303.98 277.55,304.73 277.90,304.44 278.25,303.16 278.60,304.49 278.95,303.96 279.30,302.97 279.65,303.91 280.00,303.93 280.35,304.83 280.70,304.00 281.05,304.92 281.40,305.23 281.75,303.96 282.10,303.89 282.45,305.43 282.80,304.90 283.15,304.08 283.50,304.10 283.85,306.29 284.20,305.47 284.55,304.86 284.90,304.48 285.25,306.59 285.60,305.84 285.95,305.98 286.30,305.04 286.65,304.94 287.00,305.22 287.35,304.56 287.70,305.85 288.05,305.34 288.40,306.39 288.75,305.34 289.10,305.49 289.45,305.64 289.80,306.79 290.15,305.27 290.50,306.22 290.85,305.02 291.20,305.94 291.55,305.20 291.90,306.75 292.25,305.25 292.60,306.75 292.95,306.31 293.30,305.76 293.65,307.03 294.00,305.64 294.35,306.60 294.70,306.26 295.05,305.90 295.40,304.94 295.75,305.90 296.10,305.57 296.45,306.03 296.80,307.40 297.15,305.72 297.50,306.80 297.85,306.79 298.20,305.72 298.55,306.19 298.90,305.51 299.25,307.54 299.60,305.91 299.95,306.39 300.30,306.23 300.65,307.53 301.00,307.65 301.35,307.02 301.70,306.96 302.05,305.84 302.40,307.97 302.75,305.91 303.10,306.68 303.45,306.76 303.80,307.72 304.15,307.63 304.50,306.84 304.85,308.30 305.20,308.30 305.55,306.16 305.90,307.80 306.25,307.43 306.60,307.21 306.95,307.53 307.30,307.21 307.65,308.19 308.00,308.08 308.35,308.30 308.70,308.30" fill="none" stroke="#464a96" stroke-width="0.9" stroke-linejoin="round" />
<polyline points="233.00,308.30 233.35,307.36 233.70,306.34 234.05,305.26 234.40,304.12 234.75,302.92 235.10,301.66 235.45,300.34 235.80,298.98 236.15,297.58 236.50,296.13 236.85,294.65 237.20,293.11 237.55,291.44 237.90,289.65 238.25,287.77 238.60,285.81 238.95,283.81 239.30,281.78 239.65,279.76 240.00,277.76 240.35,275.81 240.70,273.86 241.05,271.68 241.40,269.56 241.75,267.82 242.10,266.76 242.45,265.96 242.80,265.25 243.15,264.67 243.50,264.24 243.85,264.02 244.20,264.01 244.55,264.05 244.90,264.12 245.25,264.22 245.60,264.34 245.95,264.48 246.30,264.67 246.65,264.99 247.00,265.42 247.35,265.93 247.70,266.51 248.05,267.14 248.40,267.81 248.75,268.55 249.10,269.50 249.45,270.59 249.80,271.76 250.15,272.92 250.50,274.00 250.85,275.03 251.20,276.07 251.55,277.12 251.90,278.14 252.25,279.71 252.60,279.92 252.95,281.28 253.30,281.84 253.65,282.66 254.00,283.74 254.35,283.33 254.70,284.48 255.05,285.07 255.40,286.01 255.75,286.10 256.10,287.63 256.45,287.27 256.80,288.03 257.15,288.30 257.50,289.14 257.85,290.07 258.20,289.79 258.55,290.39 258.90,291.47 259.25,291.93 259.60,292.57 259.95,292.46 260.30,293.61 260.65,293.98 261.00,294.49 261.35,294.15 261.70,295.00 262.05,294.20 262.40,296.81 262.75,297.42 263.10,297.68 263.45,295.77 263.80,296.96 264.15,297.77 264.50,298.07 264.85,297.26 265.20,299.28 265.55,298.26 265.90,299.03 266.25,298.26 266.60,299.64 266.95,298.71 267.30,298.81 267.65,300.12 268.00,299.74 268.35,301.19 268.70,300.00 269.05,300.61 269.40,299.85 269.75,300.44 270.10,301.21 270.45,301.64 270.80,301.54 271.15,302.70 271.50,300.90 271.85,302.98 272.20,301.31 272.55,303.56 272.90,302.53 273.25,302.34 273.60,302.99 273.95,303.76 274.30,304.14 274.65,302.82 275.00,301.88 275.35,302.36 275.70,304.20 276.05,304.09 276.40,304.13 276.75,302.79 277.10,303.87 277.45,302.66 277.80,302.97 278.15,303.56 278.50,305.38 278.85,304.63 279.20,305.25 279.55,303.25 279.90,304.30 280.25,303.50 280.60,304.05 280.95,303.74 281.30,305.91 281.65,304.44 282.00,304.93 282.35,305.42 282.70,306.08 283.05,306.29 283.40,305.36 283.75,305.23 284.10,306.33 284.45,305.04 284.80,304.83 285.15,306.01 285.50,304.80 285.85,305.12 286.20,305.31 286.55,305.46 286.90,305.18 287.25,305.40 287.60,305.47 287.95,304.46 288.30,306.52 288.65,304.53 289.00,305.77 289.35,305.84 289.70,305.48 290.05,305.04 290.40,304.74 290.75,305.47 291.10,305.35 291.45,305.81 291.80,305.17 292.15,306.55 292.50,305.89 292.85,304.67 293.20,305.73 293.55,307.21 293.90,304.75 294.25,306.30 294.60,307.29 294.95,305.77 295.30,306.41 295.65,305.85 296.00,305.71 296.35,306.55 296.70,306.53 297.05,305.85 297.40,306.37 297.75,306.45 298.10,307.11 298.45,305.33 298.80,305.47 299.15,305.92 299.50,306.01 299.85,307.42 300.20,306.50 300.55,307.67 300.90,306.52 301.25,306.27 301.60,307.33 301.95,305.83 302.30,308.22 302.65,307.87 303.00,306.60 303.35,306.62 303.70,307.98 304.05,307.94 304.40,307.61 304.75,306.14 305.10,308.03 305.45,306.22 305.80,307.77 306.15,307.64 306.50,308.30 306.85,307.97 307.20,306.42 307.55,308.30 307.90,308.30 308.25,308.06 308.60,306.64 308.95,308.30" fill="none" stroke="#464a96" stroke-width="1.2" stroke-linejoin="round" stroke-dasharray="1.4,1.0"/>
<circle cx="239" cy="239" r="1.1" fill="#2a2a6a"/>
<polyline points="232.50,308.30 232.85,307.44 233.20,306.52 233.55,305.54 233.90,304.51 234.25,303.42 234.60,302.28 234.95,301.10 235.30,299.88 235.65,298.61 236.00,297.31 236.35,295.97 236.70,294.60 237.05,293.17 237.40,291.67 237.75,290.09 238.10,288.45 238.45,286.74 238.80,284.97 239.15,283.15 239.50,281.28 239.85,279.37 240.20,277.42 240.55,275.43 240.90,273.37 241.25,270.70 241.60,268.04 241.95,266.39 242.30,265.90 242.65,265.49 243.00,265.15 243.35,264.87 243.70,264.66 244.05,264.51 244.40,264.42 244.75,264.40 245.10,264.46 245.45,264.59 245.80,264.79 246.15,265.05 246.50,265.35 246.85,265.70 247.20,266.08 247.55,266.50 247.90,267.16 248.25,268.05 248.60,269.09 248.95,270.20 249.30,271.31 249.65,272.36 250.00,273.35 250.35,274.38 250.70,275.41 251.05,276.40 251.40,277.30 251.75,278.14 252.10,278.86 252.45,279.97 252.80,281.12 253.15,281.80 253.50,281.54 253.85,283.11 254.20,283.41 254.55,284.46 254.90,284.68 255.25,285.40 255.60,286.00 255.95,286.21 256.30,287.02 256.65,288.06 257.00,287.79 257.35,288.37 257.70,289.74 258.05,290.05 258.40,290.41 258.75,290.38 259.10,290.87 259.45,291.57 259.80,292.81 260.15,292.80 260.50,293.68 260.85,293.26 261.20,293.93 261.55,294.48 261.90,295.25 262.25,294.25 262.60,296.57 262.95,295.89 263.30,295.09 263.65,296.46 264.00,296.64 264.35,297.71 264.70,298.66 265.05,297.80 265.40,298.56 265.75,298.02 266.10,299.28 266.45,297.76 266.80,299.64 267.15,298.36 267.50,299.67 267.85,298.88 268.20,299.45 268.55,299.17 268.90,299.85 269.25,300.66 269.60,300.65 269.95,300.49 270.30,301.14 270.65,302.00 271.00,300.90 271.35,301.64 271.70,301.52 272.05,302.96 272.40,301.41 272.75,302.50 273.10,301.42 273.45,301.62 273.80,302.96 274.15,302.68 274.50,301.97 274.85,301.58 275.20,303.68 275.55,302.63 275.90,303.62 276.25,302.99 276.60,303.58 276.95,303.53 277.30,304.72 277.65,304.64 278.00,303.56 278.35,303.74 278.70,303.17 279.05,304.62 279.40,303.02 279.75,303.63 280.10,305.13 280.45,303.09 280.80,304.90 281.15,304.63 281.50,304.66 281.85,304.17 282.20,303.76 282.55,305.90 282.90,305.48 283.25,305.64 283.60,303.86 283.95,305.69 284.30,304.27 284.65,304.26 285.00,305.18 285.35,305.41 285.70,304.18 286.05,305.89 286.40,305.45 286.75,306.30 287.10,306.40 287.45,305.82 287.80,305.00 288.15,306.55 288.50,305.97 288.85,304.89 289.20,306.39 289.55,306.07 289.90,304.90 290.25,304.88 290.60,304.31 290.95,305.68 291.30,304.97 291.65,305.09 292.00,305.02 292.35,304.73 292.70,305.67 293.05,305.15 293.40,305.21 293.75,305.23 294.10,305.86 294.45,306.85 294.80,305.03 295.15,306.88 295.50,306.91 295.85,306.31 296.20,306.18 296.55,306.72 296.90,306.24 297.25,306.61 297.60,307.33 297.95,307.00 298.30,305.70 298.65,305.22 299.00,307.56 299.35,306.11 299.70,307.26 300.05,305.87 300.40,306.49 300.75,306.33 301.10,307.31 301.45,307.92 301.80,306.83 302.15,307.04 302.50,306.53 302.85,306.28 303.20,308.20 303.55,306.07 303.90,308.28 304.25,307.60 304.60,306.13 304.95,308.30 305.30,306.32 305.65,307.58 306.00,306.48 306.35,308.30 306.70,307.09 307.05,308.30 307.40,306.56 307.75,308.20 308.10,306.71 308.45,306.67 308.80,308.15" fill="none" stroke="#231f20" stroke-width="1.0" stroke-linejoin="round" />
<polyline points="233.50,308.30 233.85,307.41 234.20,306.45 234.55,305.42 234.90,304.33 235.25,303.18 235.60,301.98 235.95,300.72 236.30,299.41 236.65,298.06 237.00,296.66 237.35,295.23 237.70,293.73 238.05,292.07 238.40,290.25 238.75,288.32 239.10,286.31 239.45,284.25 239.80,282.17 240.15,280.12 240.50,278.12 240.85,276.20 241.20,274.41 241.55,272.77 241.90,271.07 242.25,269.37 242.60,267.94 242.95,267.06 243.30,266.68 243.65,266.35 244.00,266.07 244.35,265.84 244.70,265.67 245.05,265.55 245.40,265.50 245.75,265.52 246.10,265.63 246.45,265.82 246.80,266.08 247.15,266.40 247.50,266.77 247.85,267.18 248.20,267.61 248.55,268.07 248.90,268.71 249.25,269.58 249.60,270.61 249.95,271.74 250.30,272.89 250.65,274.00 251.00,275.00 251.35,275.92 251.70,276.83 252.05,278.30 252.40,278.81 252.75,279.85 253.10,280.57 253.45,281.04 253.80,281.29 254.15,282.60 254.50,282.95 254.85,284.11 255.20,284.63 255.55,285.52 255.90,285.84 256.25,287.12 256.60,287.41 256.95,288.10 257.30,288.18 257.65,289.21 258.00,289.83 258.35,290.85 258.70,290.87 259.05,290.86 259.40,291.56 259.75,292.09 260.10,293.01 260.45,293.76 260.80,294.26 261.15,294.68 261.50,295.08 261.85,295.42 262.20,296.53 262.55,294.54 262.90,296.14 263.25,296.76 263.60,297.36 263.95,297.49 264.30,297.81 264.65,298.93 265.00,297.00 265.35,298.39 265.70,299.77 266.05,297.60 266.40,298.04 266.75,300.23 267.10,300.67 267.45,298.46 267.80,298.68 268.15,300.95 268.50,300.78 268.85,300.52 269.20,300.86 269.55,301.50 269.90,301.80 270.25,299.86 270.60,300.19 270.95,302.24 271.30,302.86 271.65,302.63 272.00,301.67 272.35,301.62 272.70,301.78 273.05,301.04 273.40,303.13 273.75,301.93 274.10,302.89 274.45,302.85 274.80,302.47 275.15,303.47 275.50,303.01 275.85,302.55 276.20,304.34 276.55,302.61 276.90,302.65 277.25,303.03 277.60,303.72 277.95,304.61 278.30,303.53 278.65,303.38 279.00,304.56 279.35,303.63 279.70,304.40 280.05,303.79 280.40,305.49 280.75,303.77 281.10,303.97 281.45,304.22 281.80,304.36 282.15,305.46 282.50,305.39 282.85,305.75 283.20,305.15 283.55,304.01 283.90,305.84 284.25,304.53 284.60,304.50 284.95,305.05 285.30,306.58 285.65,305.01 286.00,305.00 286.35,306.47 286.70,306.71 287.05,305.17 287.40,304.54 287.75,306.27 288.10,306.27 288.45,305.14 288.80,306.34 289.15,305.29 289.50,305.07 289.85,305.89 290.20,306.30 290.55,305.63 290.90,306.54 291.25,304.47 291.60,305.76 291.95,305.47 292.30,304.67 292.65,306.91 293.00,304.93 293.35,305.12 293.70,306.89 294.05,307.14 294.40,307.09 294.75,305.59 295.10,307.16 295.45,305.14 295.80,306.67 296.15,307.31 296.50,305.39 296.85,305.28 297.20,306.73 297.55,307.30 297.90,306.93 298.25,307.55 298.60,306.31 298.95,306.14 299.30,305.53 299.65,305.97 300.00,307.75 300.35,305.54 300.70,305.88 301.05,306.35 301.40,305.62 301.75,306.34 302.10,306.07 302.45,305.96 302.80,307.06 303.15,307.15 303.50,307.27 303.85,307.83 304.20,307.27 304.55,308.30 304.90,306.22 305.25,306.64 305.60,306.31 305.95,306.97 306.30,308.20 306.65,308.30 307.00,307.64 307.35,306.81 307.70,307.31 308.05,308.00 308.40,307.35 308.75,308.30" fill="none" stroke="#231f20" stroke-width="1.0" stroke-linejoin="round" stroke-dasharray="1.6,1.1"/>
<polyline points="256.60,289.21 257.10,288.33 257.60,289.54 258.10,291.05 258.60,290.55 259.10,290.37 259.60,293.46 260.10,294.23 260.60,291.81 261.10,294.79 261.60,294.22 262.10,293.67 262.60,294.56 263.10,295.10 263.60,297.38 264.10,296.15 264.60,295.94 265.10,296.96 265.60,299.16 266.10,298.53 266.60,299.34 267.10,299.05 267.60,298.43 268.10,298.18 268.60,299.37 269.10,298.79 269.60,299.74 270.10,301.12 270.60,300.54 271.10,301.09 271.60,301.78 272.10,300.99 272.60,301.30 273.10,303.16 273.60,302.36 274.10,302.00 274.60,302.55 275.10,302.44 275.60,302.18 276.10,304.18 276.60,302.15 277.10,304.53 277.60,304.40 278.10,304.62 278.60,302.44 279.10,303.66 279.60,305.30 280.10,303.18 280.60,302.91 281.10,304.78 281.60,303.31 282.10,304.52 282.60,303.25 283.10,305.85 283.60,303.81 284.10,303.28 284.60,305.24 285.10,304.21 285.60,304.95 286.10,304.81 286.60,306.22 287.10,304.96 287.60,304.58 288.10,303.41 288.60,305.04 289.10,304.35 289.60,305.37 290.10,305.60 290.60,305.09 291.10,303.94 291.60,305.29 292.10,305.28 292.60,305.84 293.10,306.94 293.60,304.78 294.10,305.35 294.60,304.26 295.10,306.61 295.60,304.86 296.10,306.82 296.60,306.78 297.10,305.10 297.60,307.24 298.10,306.02 298.60,305.84 299.10,306.31 299.60,307.63 300.10,306.24 300.60,306.29 301.10,305.74 301.60,307.58 302.10,306.57 302.60,306.14 303.10,305.75 303.60,305.89 304.10,307.96 304.60,307.95 305.10,308.30 305.60,308.30 306.10,307.85 306.60,308.30 307.10,308.14 307.60,308.30 308.10,308.30 308.60,306.85" fill="none" stroke="#464a96" stroke-width="1.3" stroke-linejoin="round" />
<polyline points="258.00,286.01 258.50,285.42 259.00,286.26 259.50,289.43 260.00,287.54 260.50,290.05 261.00,290.43 261.50,292.75 262.00,293.00 262.50,294.75 263.00,295.56 263.50,295.32 264.00,294.09 264.50,296.58 265.00,295.29 265.50,298.51 266.00,298.55 266.50,297.13 267.00,297.08 267.50,299.05 268.00,299.57 268.50,300.60 269.00,299.73 269.50,298.41 270.00,300.59 270.50,298.69 271.00,301.52 271.50,301.42 272.00,301.69 272.50,302.17 273.00,301.39 273.50,302.77 274.00,301.98 274.50,301.68 275.00,301.51 275.50,301.58 276.00,300.68 276.50,301.28 277.00,303.47 277.50,301.80 278.00,303.31 278.50,303.84 279.00,303.71 279.50,303.27 280.00,302.76 280.50,302.74 281.00,302.58 281.50,304.16 282.00,304.39 282.50,305.31 283.00,303.44 283.50,305.44 284.00,305.47 284.50,303.56 285.00,305.75 285.50,304.75 286.00,305.91 286.50,305.36 287.00,304.01 287.50,303.88 288.00,304.71 288.50,304.65 289.00,303.24 289.50,305.94 290.00,304.93 290.50,304.78 291.00,305.69 291.50,304.15 292.00,304.04 292.50,305.31 293.00,304.27 293.50,304.60 294.00,303.84 294.50,303.84 295.00,304.88 295.50,305.49 296.00,306.91 296.50,305.99 297.00,305.34 297.50,305.39 298.00,304.92 298.50,305.76 299.00,307.39 299.50,304.79 300.00,305.87 300.50,306.76 301.00,307.09 301.50,306.52 302.00,306.88 302.50,307.92 303.00,307.90 303.50,305.92 304.00,306.94 304.50,308.30 305.00,307.10 305.50,306.12 306.00,308.08 306.50,305.92 307.00,306.33 307.50,307.74 308.00,306.98 308.50,308.30 309.00,308.30" fill="none" stroke="#e05a5a" stroke-width="1.3" stroke-linejoin="round" />
<line x1="219.50" y1="212.90" x2="219.50" y2="309.00" stroke="#231f20" stroke-width="1.0" />
<line x1="216.50" y1="308.50" x2="219.50" y2="308.50" stroke="#231f20" stroke-width="1.0" />
<text transform="translate(212.80 311.30) scale(0.93 1)" font-size="8.8" text-anchor="end" font-weight="normal" fill="#231f20" stroke="#231f20" stroke-width="0.14">0</text>
<line x1="216.50" y1="292.50" x2="219.50" y2="292.50" stroke="#231f20" stroke-width="1.0" />
<text transform="translate(212.80 295.97) scale(0.93 1)" font-size="8.8" text-anchor="end" font-weight="normal" fill="#231f20" stroke="#231f20" stroke-width="0.14">50</text>
<line x1="216.50" y1="277.50" x2="219.50" y2="277.50" stroke="#231f20" stroke-width="1.0" />
<text transform="translate(212.80 280.63) scale(0.93 1)" font-size="8.8" text-anchor="end" font-weight="normal" fill="#231f20" stroke="#231f20" stroke-width="0.14">100</text>
<line x1="216.50" y1="262.50" x2="219.50" y2="262.50" stroke="#231f20" stroke-width="1.0" />
<text transform="translate(212.80 265.30) scale(0.93 1)" font-size="8.8" text-anchor="end" font-weight="normal" fill="#231f20" stroke="#231f20" stroke-width="0.14">150</text>
<line x1="216.50" y1="246.50" x2="219.50" y2="246.50" stroke="#231f20" stroke-width="1.0" />
<text transform="translate(212.80 249.96) scale(0.93 1)" font-size="8.8" text-anchor="end" font-weight="normal" fill="#231f20" stroke="#231f20" stroke-width="0.14">200</text>
<line x1="216.50" y1="231.50" x2="219.50" y2="231.50" stroke="#231f20" stroke-width="1.0" />
<text transform="translate(212.80 234.62) scale(0.93 1)" font-size="8.8" text-anchor="end" font-weight="normal" fill="#231f20" stroke="#231f20" stroke-width="0.14">250</text>
<line x1="216.50" y1="216.50" x2="219.50" y2="216.50" stroke="#231f20" stroke-width="1.0" />
<text transform="translate(212.80 219.29) scale(0.93 1)" font-size="8.8" text-anchor="end" font-weight="normal" fill="#231f20" stroke="#231f20" stroke-width="0.14">300</text>
<line x1="219.00" y1="308.50" x2="310.30" y2="308.50" stroke="#231f20" stroke-width="1.0" />
<line x1="219.50" y1="308.50" x2="219.50" y2="312.00" stroke="#231f20" stroke-width="1.0" />
<text transform="translate(219.50 322.10) scale(0.93 1)" font-size="8.8" text-anchor="middle" font-weight="normal" fill="#231f20" stroke="#231f20" stroke-width="0.14">0</text>
<line x1="241.50" y1="308.50" x2="241.50" y2="312.00" stroke="#231f20" stroke-width="1.0" />
<text transform="translate(241.30 322.10) scale(0.93 1)" font-size="8.8" text-anchor="middle" font-weight="normal" fill="#231f20" stroke="#231f20" stroke-width="0.14">20</text>
<line x1="263.50" y1="308.50" x2="263.50" y2="312.00" stroke="#231f20" stroke-width="1.0" />
<text transform="translate(263.10 322.10) scale(0.93 1)" font-size="8.8" text-anchor="middle" font-weight="normal" fill="#231f20" stroke="#231f20" stroke-width="0.14">40</text>
<line x1="284.50" y1="308.50" x2="284.50" y2="312.00" stroke="#231f20" stroke-width="1.0" />
<text transform="translate(284.90 322.10) scale(0.93 1)" font-size="8.8" text-anchor="middle" font-weight="normal" fill="#231f20" stroke="#231f20" stroke-width="0.14">60</text>
<line x1="306.50" y1="308.50" x2="306.50" y2="312.00" stroke="#231f20" stroke-width="1.0" />
<text transform="translate(306.70 322.10) scale(0.93 1)" font-size="8.8" text-anchor="middle" font-weight="normal" fill="#231f20" stroke="#231f20" stroke-width="0.14">80</text>
<text transform="translate(192.40 260.60) rotate(-90)" font-size="9.6" text-anchor="middle" font-weight="normal" fill="#231f20" stroke="#231f20" stroke-width="0.3" textLength="46" lengthAdjust="spacingAndGlyphs">Thrombin (nM)</text>
<text transform="translate(265.40 336.60)" font-size="10.0" text-anchor="middle" font-weight="normal" fill="#231f20" stroke="#231f20" stroke-width="0.3" textLength="33.5" lengthAdjust="spacingAndGlyphs">Time (min)</text>
<line x1="285.00" y1="224.30" x2="294.40" y2="224.30" stroke="#464a96" stroke-width="1.4" />
<text transform="translate(298.00 227.30) scale(0.97 1)" font-size="8.4" text-anchor="start" font-weight="normal" fill="#231f20" stroke="#231f20" stroke-width="0.1">40% RBC</text>
<line x1="285.00" y1="235.90" x2="294.40" y2="235.90" stroke="#464a96" stroke-width="1.4" stroke-dasharray="3.2,1.9"/>
<text transform="translate(298.00 238.90) scale(0.97 1)" font-size="8.4" text-anchor="start" font-weight="normal" fill="#231f20" stroke="#231f20" stroke-width="0.1">40% RBC+A5</text>
<line x1="285.00" y1="247.50" x2="294.40" y2="247.50" stroke="#e05a5a" stroke-width="1.4" />
<text transform="translate(298.00 250.50) scale(0.97 1)" font-size="8.4" text-anchor="start" font-weight="normal" fill="#231f20" stroke="#231f20" stroke-width="0.1">20% RBC</text>
<line x1="285.00" y1="259.10" x2="294.40" y2="259.10" stroke="#d0704f" stroke-width="1.4" stroke-dasharray="3.2,1.9"/>
<text transform="translate(298.00 262.10) scale(0.97 1)" font-size="8.4" text-anchor="start" font-weight="normal" fill="#231f20" stroke="#231f20" stroke-width="0.1">20% RBC+A5</text>
<line x1="285.00" y1="270.70" x2="294.40" y2="270.70" stroke="#231f20" stroke-width="1.4" />
<text transform="translate(298.00 273.70) scale(0.97 1)" font-size="8.4" text-anchor="start" font-weight="normal" fill="#231f20" stroke="#231f20" stroke-width="0.1">0% RBC</text>
<line x1="285.00" y1="282.30" x2="294.40" y2="282.30" stroke="#231f20" stroke-width="1.4" stroke-dasharray="3.2,1.9"/>
<text transform="translate(298.00 285.30) scale(0.97 1)" font-size="8.4" text-anchor="start" font-weight="normal" fill="#231f20" stroke="#231f20" stroke-width="0.1">0% RBC+A5</text>
<text transform="translate(392.00 201.90)" font-size="10" text-anchor="start" font-weight="normal" fill="#231f20" letter-spacing="0.18" stroke="#231f20" stroke-width="0.2">35% RBC (+ A5) + PPP</text>
<polyline points="427.20,307.87 427.55,307.33 427.90,306.46 428.25,305.86 428.60,305.13 428.95,304.60 429.30,303.91 429.65,303.78 430.00,303.82 430.35,303.55 430.70,302.80 431.05,302.67 431.40,302.66 431.75,302.79 432.10,302.39 432.45,301.91 432.80,301.81 433.15,301.56 433.50,301.30 433.85,300.63 434.20,300.31 434.55,299.72 434.90,298.95 435.25,297.79 435.60,297.48 435.95,296.34 436.30,295.58 436.65,295.13 437.00,294.06 437.35,293.35 437.70,292.87 438.05,292.29 438.40,291.49 438.75,291.63 439.10,291.13 439.45,290.45 439.80,290.12 440.15,289.59 440.50,289.78 440.85,289.00 441.20,289.06 441.55,289.01 441.90,289.49 442.25,289.28 442.60,289.26 442.95,289.32 443.30,289.73 443.65,289.37 444.00,289.89 444.35,290.05 444.70,290.15 445.05,290.27 445.40,290.77 445.75,291.21 446.10,291.38 446.45,292.38 446.80,292.44 447.15,292.68 447.50,293.95 447.85,293.77 448.20,294.21 448.55,295.36 448.90,295.03 449.25,295.34 449.60,296.74 449.95,297.34 450.30,297.46 450.65,297.23 451.00,298.17 451.35,298.73 451.70,298.35 452.05,299.52 452.40,300.31 452.75,300.14 453.10,300.52 453.45,300.45 453.80,301.20 454.15,300.77 454.50,302.09 454.85,302.00 455.20,303.10 455.55,302.24 455.90,303.18 456.25,302.18 456.60,303.13 456.95,303.95 457.30,303.22 457.65,304.02 458.00,303.47 458.35,303.95 458.70,305.16 459.05,303.87 459.40,305.29 459.75,303.88 460.10,304.94 460.45,305.48 460.80,305.62 461.15,304.92 461.50,305.38 461.85,305.70 462.20,305.88 462.55,305.94 462.90,305.72 463.25,305.21 463.60,306.11 463.95,305.92 464.30,305.97 464.65,306.84 465.00,305.38 465.35,306.61 465.70,305.85 466.05,306.64 466.40,307.11 466.75,305.95 467.10,306.54 467.45,306.52 467.80,306.51 468.15,305.98 468.50,306.85 468.85,307.38 469.20,307.01 469.55,306.37 469.90,307.34 470.25,306.68 470.60,306.22 470.95,307.08 471.30,306.86 471.65,307.01 472.00,307.88 472.35,307.15 472.70,307.87 473.05,306.82 473.40,307.58 473.75,306.38 474.10,306.81 474.45,307.54 474.80,307.56 475.15,307.83 475.50,307.05 475.85,306.88 476.20,307.06 476.55,307.40 476.90,306.50 477.25,307.15 477.60,307.68 477.95,306.78 478.30,307.09 478.65,308.00 479.00,308.00 479.35,307.02 479.70,306.91 480.05,306.81 480.40,306.77 480.75,308.00 481.10,307.97 481.45,307.13 481.80,307.54 482.15,307.93 482.50,306.74 482.85,308.00 483.20,308.00 483.55,307.10 483.90,308.00 484.25,308.00 484.60,307.36 484.95,308.00 485.30,307.17 485.65,307.64 486.00,307.36 486.35,307.60 486.70,308.00 487.05,307.85 487.40,307.93 487.75,308.00 488.10,307.25 488.45,307.25 488.80,307.97 489.15,307.14 489.50,308.00 489.85,307.49 490.20,307.67 490.55,307.66 490.90,308.00 491.25,308.00 491.60,308.00 491.95,307.21 492.30,307.54 492.65,308.00 493.00,307.29" fill="none" stroke="#e8332e" stroke-width="0.9" stroke-linejoin="round" />
<polyline points="418.50,308.00 418.85,308.00 419.20,307.67 419.55,307.63 419.90,307.29 420.25,307.17 420.60,306.05 420.95,305.72 421.30,304.40 421.65,304.01 422.00,302.87 422.35,301.99 422.70,300.83 423.05,300.09 423.40,299.67 423.75,299.51 424.10,298.65 424.45,298.25 424.80,297.13 425.15,296.61 425.50,296.00 425.85,295.93 426.20,295.01 426.55,294.53 426.90,294.24 427.25,293.67 427.60,292.68 427.95,292.03 428.30,291.27 428.65,291.08 429.00,290.90 429.35,290.93 429.70,290.89 430.05,290.97 430.40,291.01 430.75,290.90 431.10,291.17 431.45,291.43 431.80,291.26 432.15,291.19 432.50,291.73 432.85,291.48 433.20,291.50 433.55,291.33 433.90,291.70 434.25,291.56 434.60,291.42 434.95,291.39 435.30,291.36 435.65,291.17 436.00,291.06 436.35,291.00 436.70,291.04 437.05,290.99 437.40,291.02 437.75,291.03 438.10,291.25 438.45,291.38 438.80,291.00 439.15,290.96 439.50,291.26 439.85,291.19 440.20,291.89 440.55,291.99 440.90,292.04 441.25,292.30 441.60,293.14 441.95,293.52 442.30,293.83 442.65,294.27 443.00,294.74 443.35,294.97 443.70,295.36 444.05,295.87 444.40,296.47 444.75,296.90 445.10,297.68 445.45,297.92 445.80,296.93 446.15,297.63 446.50,299.32 446.85,298.94 447.20,299.27 447.55,299.28 447.90,300.64 448.25,300.37 448.60,301.56 448.95,300.24 449.30,302.19 449.65,300.70 450.00,301.20 450.35,301.86 450.70,302.54 451.05,301.80 451.40,302.83 451.75,303.71 452.10,303.00 452.45,303.78 452.80,303.65 453.15,303.81 453.50,303.24 453.85,303.93 454.20,304.87 454.55,304.60 454.90,303.92 455.25,304.46 455.60,304.75 455.95,304.49 456.30,305.03 456.65,305.23 457.00,304.22 457.35,304.68 457.70,305.56 458.05,304.85 458.40,304.68 458.75,306.00 459.10,305.31 459.45,306.51 459.80,305.87 460.15,305.11 460.50,306.14 460.85,305.54 461.20,306.59 461.55,306.49 461.90,306.61 462.25,305.40 462.60,305.41 462.95,306.83 463.30,305.69 463.65,305.85 464.00,305.58 464.35,305.87 464.70,306.47 465.05,307.39 465.40,306.28 465.75,306.21 466.10,307.28 466.45,306.16 466.80,307.01 467.15,307.01 467.50,307.63 467.85,306.06 468.20,307.03 468.55,306.74 468.90,307.57 469.25,306.57 469.60,307.44 469.95,306.51 470.30,307.10 470.65,307.98 471.00,306.70 471.35,306.80 471.70,307.97 472.05,307.56 472.40,306.49 472.75,306.72 473.10,306.84 473.45,306.95 473.80,307.97 474.15,307.73 474.50,308.00 474.85,307.70 475.20,307.64 475.55,307.21 475.90,307.82 476.25,307.43 476.60,306.66 476.95,307.46 477.30,307.27 477.65,307.55 478.00,306.70 478.35,306.67 478.70,308.00 479.05,307.31 479.40,307.25 479.75,306.93 480.10,307.74 480.45,308.00 480.80,307.02 481.15,307.61 481.50,307.62 481.85,308.00 482.20,307.75 482.55,307.18 482.90,307.10 483.25,308.00 483.60,306.91 483.95,308.00 484.30,306.85 484.65,307.14 485.00,307.65 485.35,308.00 485.70,307.94 486.05,308.00 486.40,308.00 486.75,308.00 487.10,306.94 487.45,308.00 487.80,307.12 488.15,307.16 488.50,306.94 488.85,306.92 489.20,308.00 489.55,307.57 489.90,307.04 490.25,306.97 490.60,308.00 490.95,307.98 491.30,308.00 491.65,306.96 492.00,307.10 492.35,307.42 492.70,307.24" fill="none" stroke="#4a3a9a" stroke-width="0.9" stroke-linejoin="round" />
<polyline points="414.00,307.73 414.35,307.71 414.70,307.83 415.05,306.99 415.40,306.15 415.75,305.38 416.10,304.14 416.45,302.90 416.80,302.12 417.15,300.86 417.50,299.46 417.85,298.18 418.20,296.56 418.55,295.74 418.90,294.36 419.25,293.57 419.60,292.58 419.95,292.50 420.30,291.64 420.65,290.90 421.00,290.45 421.35,290.20 421.70,289.15 422.05,288.85 422.40,288.64 422.75,287.99 423.10,287.84 423.45,287.62 423.80,286.66 424.15,286.48 424.50,286.15 424.85,286.12 425.20,285.81 425.55,285.43 425.90,285.29 426.25,284.48 426.60,284.33 426.95,284.35 427.30,283.96 427.65,283.14 428.00,283.34 428.35,282.65 428.70,282.09 429.05,281.02 429.40,280.45 429.75,279.98 430.10,279.32 430.45,278.61 430.80,278.45 431.15,278.19 431.50,277.94 431.85,277.98 432.20,278.65 432.55,278.74 432.90,279.70 433.25,280.62 433.60,281.06 433.95,282.13 434.30,282.09 434.65,282.94 435.00,283.12 435.35,283.56 435.70,284.15 436.05,284.24 436.40,284.78 436.75,285.43 437.10,285.87 437.45,285.71 437.80,286.12 438.15,286.69 438.50,286.68 438.85,287.49 439.20,287.37 439.55,287.95 439.90,288.13 440.25,288.21 440.60,288.53 440.95,288.84 441.30,289.38 441.65,289.65 442.00,290.45 442.35,290.51 442.70,290.41 443.05,291.17 443.40,291.14 443.75,291.62 444.10,292.09 444.45,292.49 444.80,292.86 445.15,292.73 445.50,292.86 445.85,293.32 446.20,293.49 446.55,294.58 446.90,294.39 447.25,295.11 447.60,294.46 447.95,295.91 448.30,296.55 448.65,295.48 449.00,296.52 449.35,295.99 449.70,296.05 450.05,297.01 450.40,296.86 450.75,298.12 451.10,298.11 451.45,298.56 451.80,299.36 452.15,297.99 452.50,298.32 452.85,298.47 453.20,299.49 453.55,300.40 453.90,300.40 454.25,300.39 454.60,301.19 454.95,300.55 455.30,300.31 455.65,301.48 456.00,300.58 456.35,301.15 456.70,300.99 457.05,301.42 457.40,301.43 457.75,302.45 458.10,301.90 458.45,302.93 458.80,303.50 459.15,302.80 459.50,302.56 459.85,303.71 460.20,303.97 460.55,304.40 460.90,303.95 461.25,304.13 461.60,304.77 461.95,304.55 462.30,305.20 462.65,304.07 463.00,305.05 463.35,304.89 463.70,304.69 464.05,303.96 464.40,304.89 464.75,304.59 465.10,305.29 465.45,305.21 465.80,305.29 466.15,304.55 466.50,304.76 466.85,305.68 467.20,305.89 467.55,306.51 467.90,306.22 468.25,305.37 468.60,305.73 468.95,305.87 469.30,306.46 469.65,305.77 470.00,306.76 470.35,306.01 470.70,305.90 471.05,306.08 471.40,305.90 471.75,307.09 472.10,305.41 472.45,306.08 472.80,305.53 473.15,306.64 473.50,305.72 473.85,305.75 474.20,306.27 474.55,306.62 474.90,306.93 475.25,306.39 475.60,306.14 475.95,306.30 476.30,307.26 476.65,306.07 477.00,305.73 477.35,307.32 477.70,306.62 478.05,306.01 478.40,306.04 478.75,307.42 479.10,307.19 479.45,305.98 479.80,307.10 480.15,306.29 480.50,306.73 480.85,307.04 481.20,306.07 481.55,307.68 481.90,306.62 482.25,306.30 482.60,307.47 482.95,306.28 483.30,306.17 483.65,307.30 484.00,307.00 484.35,307.79 484.70,307.61 485.05,306.58 485.40,306.31 485.75,307.34 486.10,307.12 486.45,306.83 486.80,307.96 487.15,306.70 487.50,307.50 487.85,306.50 488.20,308.00 488.55,308.00 488.90,307.53 489.25,307.01 489.60,307.75 489.95,308.00 490.30,307.92 490.65,306.57 491.00,307.42 491.35,306.78 491.70,307.53 492.05,308.00 492.40,308.00 492.75,307.04" fill="none" stroke="#3aa56a" stroke-width="1.25" stroke-linejoin="round" />
<polyline points="402.00,308.00 402.35,307.87 402.70,307.76 403.05,308.00 403.40,308.00 403.75,307.84 404.10,307.87 404.45,308.00 404.80,308.00 405.15,307.82 405.50,307.54 405.85,307.48 406.20,307.49 406.55,307.90 406.90,307.62 407.25,307.67 407.60,307.42 407.95,307.37 408.30,307.17 408.65,307.66 409.00,307.34 409.35,306.93 409.70,307.26 410.05,307.11 410.40,307.02 410.75,307.00 411.10,306.72 411.45,306.72 411.80,306.55 412.15,305.87 412.50,305.71 412.85,305.07 413.20,304.02 413.55,302.43 413.90,300.88 414.25,299.01 414.60,297.64 414.95,296.67 415.30,295.34 415.65,293.98 416.00,292.84 416.35,291.27 416.70,290.22 417.05,288.73 417.40,287.57 417.75,286.22 418.10,285.52 418.45,284.43 418.80,282.83 419.15,281.70 419.50,280.17 419.85,278.73 420.20,277.60 420.55,276.38 420.90,274.58 421.25,273.73 421.60,273.46 421.95,272.91 422.30,273.37 422.65,273.03 423.00,273.14 423.35,272.99 423.70,273.09 424.05,273.23 424.40,273.17 424.75,273.53 425.10,273.08 425.45,273.56 425.80,273.72 426.15,273.44 426.50,273.41 426.85,273.43 427.20,273.47 427.55,274.05 427.90,274.01 428.25,273.69 428.60,274.10 428.95,274.32 429.30,274.29 429.65,274.29 430.00,274.81 430.35,275.04 430.70,275.79 431.05,275.70 431.40,276.46 431.75,276.82 432.10,277.09 432.45,277.37 432.80,278.53 433.15,278.77 433.50,279.90 433.85,280.40 434.20,281.22 434.55,282.25 434.90,282.85 435.25,284.15 435.60,284.57 435.95,285.50 436.30,286.26 436.65,286.84 437.00,287.48 437.35,288.06 437.70,288.98 438.05,289.59 438.40,289.91 438.75,290.84 439.10,291.41 439.45,292.10 439.80,292.85 440.15,293.42 440.50,293.93 440.85,294.66 441.20,295.25 441.55,295.30 441.90,295.88 442.25,296.35 442.60,296.95 442.95,298.01 443.30,298.05 443.65,298.61 444.00,299.08 444.35,299.58 444.70,299.81 445.05,300.89 445.40,300.52 445.75,301.87 446.10,302.21 446.45,301.17 446.80,302.54 447.15,302.08 447.50,303.84 447.85,302.69 448.20,303.31 448.55,304.45 448.90,304.32 449.25,304.61 449.60,304.29 449.95,304.62 450.30,304.18 450.65,304.76 451.00,304.51 451.35,305.37 451.70,304.45 452.05,304.60 452.40,304.80 452.75,305.49 453.10,305.66 453.45,304.70 453.80,306.54 454.15,306.33 454.50,305.58 454.85,305.24 455.20,306.49 455.55,306.81 455.90,305.42 456.25,306.50 456.60,306.66 456.95,306.91 457.30,305.63 457.65,305.50 458.00,305.61 458.35,305.76 458.70,306.99 459.05,307.04 459.40,306.28 459.75,305.68 460.10,306.11 460.45,305.94 460.80,306.69 461.15,306.85 461.50,306.98 461.85,306.40 462.20,306.47 462.55,306.52 462.90,306.38 463.25,306.56 463.60,307.01 463.95,307.09 464.30,306.44 464.65,306.91 465.00,306.18 465.35,306.04 465.70,306.69 466.05,306.67 466.40,306.12 466.75,306.23 467.10,306.89 467.45,307.84 467.80,307.68 468.15,306.26 468.50,306.80 468.85,306.91 469.20,306.83 469.55,306.53 469.90,307.36 470.25,307.82 470.60,307.01 470.95,306.65 471.30,306.53 471.65,306.37 472.00,307.73 472.35,306.78 472.70,307.67 473.05,307.80 473.40,306.53 473.75,306.73 474.10,306.96 474.45,307.79 474.80,307.73 475.15,306.96 475.50,307.23 475.85,307.06 476.20,307.28 476.55,307.86 476.90,306.91 477.25,307.91 477.60,308.00 477.95,307.54 478.30,308.00 478.65,308.00 479.00,306.79 479.35,308.00 479.70,306.85 480.05,307.95 480.40,306.73 480.75,307.06 481.10,307.32 481.45,308.00 481.80,307.77 482.15,306.92 482.50,308.00 482.85,308.00 483.20,307.50 483.55,306.68 483.90,307.12 484.25,307.14 484.60,307.38 484.95,308.00 485.30,307.71 485.65,308.00 486.00,306.79 486.35,307.12 486.70,308.00 487.05,307.31 487.40,307.12 487.75,306.83 488.10,306.82 488.45,307.48 488.80,307.74 489.15,307.48 489.50,307.79 489.85,307.31 490.20,306.83 490.55,308.00 490.90,307.43 491.25,307.72 491.60,307.53 491.95,307.35 492.30,306.97 492.65,307.42 493.00,307.44" fill="none" stroke="#231f20" stroke-width="0.9" stroke-linejoin="round" />
<polyline points="447.00,301.73 447.35,301.91 447.70,303.16 448.05,302.57 448.40,304.58 448.75,303.79 449.10,304.13 449.45,304.44 449.80,303.58 450.15,303.87 450.50,305.36 450.85,305.02 451.20,305.01 451.55,304.82 451.90,305.73 452.25,305.33 452.60,305.99 452.95,306.16 453.30,306.35 453.65,306.09 454.00,306.05 454.35,305.69 454.70,305.89 455.05,306.04 455.40,305.98 455.75,306.62 456.10,306.74 456.45,305.17 456.80,306.61 457.15,306.37 457.50,306.37 457.85,307.02 458.20,305.33 458.55,306.21 458.90,306.04 459.25,307.21 459.60,305.67 459.95,306.49 460.30,305.68 460.65,306.92 461.00,306.42 461.35,306.94 461.70,306.11 462.05,307.30 462.40,305.58 462.75,306.04 463.10,307.10 463.45,307.42 463.80,307.25 464.15,306.28 464.50,305.93 464.85,307.22 465.20,307.30 465.55,306.00 465.90,307.78 466.25,307.00 466.60,306.04 466.95,306.97 467.30,306.71 467.65,306.27 468.00,307.86 468.35,307.98 468.70,306.39 469.05,307.05 469.40,306.72 469.75,307.54 470.10,306.42 470.45,306.88 470.80,307.05 471.15,307.18 471.50,307.11 471.85,307.44 472.20,308.00 472.55,308.00 472.90,308.00 473.25,307.94 473.60,306.74 473.95,306.78 474.30,307.22 474.65,307.59 475.00,307.52 475.35,307.02 475.70,308.00 476.05,306.95 476.40,306.37 476.75,306.52 477.10,306.76 477.45,307.81 477.80,308.00 478.15,306.45 478.50,306.84 478.85,306.86 479.20,307.96 479.55,308.00 479.90,306.92 480.25,306.61 480.60,308.00 480.95,308.00 481.30,307.87 481.65,307.39 482.00,307.94 482.35,307.99 482.70,307.49 483.05,307.02 483.40,307.54 483.75,307.82 484.10,307.16 484.45,307.80 484.80,306.82 485.15,308.00 485.50,306.97 485.85,307.01 486.20,308.00 486.55,308.00 486.90,308.00 487.25,308.00 487.60,308.00 487.95,308.00 488.30,307.77 488.65,306.80 489.00,308.00 489.35,308.00 489.70,308.00 490.05,306.78 490.40,306.83 490.75,308.00 491.10,307.71 491.45,308.00 491.80,308.00 492.15,307.66 492.50,308.00 492.85,308.00" fill="none" stroke="#231f20" stroke-width="1.4" stroke-linejoin="round" />
<line x1="401.50" y1="212.80" x2="401.50" y2="309.00" stroke="#231f20" stroke-width="1.0" />
<line x1="398.50" y1="308.50" x2="401.50" y2="308.50" stroke="#231f20" stroke-width="1.0" />
<text transform="translate(395.30 311.20) scale(0.93 1)" font-size="8.8" text-anchor="end" font-weight="normal" fill="#231f20" stroke="#231f20" stroke-width="0.14">0</text>
<line x1="398.50" y1="285.50" x2="401.50" y2="285.50" stroke="#231f20" stroke-width="1.0" />
<text transform="translate(395.30 288.20) scale(0.93 1)" font-size="8.8" text-anchor="end" font-weight="normal" fill="#231f20" stroke="#231f20" stroke-width="0.14">50</text>
<line x1="398.50" y1="262.50" x2="401.50" y2="262.50" stroke="#231f20" stroke-width="1.0" />
<text transform="translate(395.30 265.20) scale(0.93 1)" font-size="8.8" text-anchor="end" font-weight="normal" fill="#231f20" stroke="#231f20" stroke-width="0.14">100</text>
<line x1="398.50" y1="239.50" x2="401.50" y2="239.50" stroke="#231f20" stroke-width="1.0" />
<text transform="translate(395.30 242.20) scale(0.93 1)" font-size="8.8" text-anchor="end" font-weight="normal" fill="#231f20" stroke="#231f20" stroke-width="0.14">150</text>
<line x1="398.50" y1="216.50" x2="401.50" y2="216.50" stroke="#231f20" stroke-width="1.0" />
<text transform="translate(395.30 219.20) scale(0.93 1)" font-size="8.8" text-anchor="end" font-weight="normal" fill="#231f20" stroke="#231f20" stroke-width="0.14">200</text>
<line x1="401.00" y1="308.50" x2="493.00" y2="308.50" stroke="#231f20" stroke-width="1.0" />
<line x1="401.50" y1="308.50" x2="401.50" y2="312.00" stroke="#231f20" stroke-width="1.0" />
<text transform="translate(401.60 321.90) scale(0.93 1)" font-size="8.8" text-anchor="middle" font-weight="normal" fill="#231f20" stroke="#231f20" stroke-width="0.14">0</text>
<line x1="423.50" y1="308.50" x2="423.50" y2="312.00" stroke="#231f20" stroke-width="1.0" />
<text transform="translate(423.60 321.90) scale(0.93 1)" font-size="8.8" text-anchor="middle" font-weight="normal" fill="#231f20" stroke="#231f20" stroke-width="0.14">20</text>
<line x1="445.50" y1="308.50" x2="445.50" y2="312.00" stroke="#231f20" stroke-width="1.0" />
<text transform="translate(445.60 321.90) scale(0.93 1)" font-size="8.8" text-anchor="middle" font-weight="normal" fill="#231f20" stroke="#231f20" stroke-width="0.14">40</text>
<line x1="467.50" y1="308.50" x2="467.50" y2="312.00" stroke="#231f20" stroke-width="1.0" />
<text transform="translate(467.60 321.90) scale(0.93 1)" font-size="8.8" text-anchor="middle" font-weight="normal" fill="#231f20" stroke="#231f20" stroke-width="0.14">60</text>
<line x1="489.50" y1="308.50" x2="489.50" y2="312.00" stroke="#231f20" stroke-width="1.0" />
<text transform="translate(489.60 321.90) scale(0.93 1)" font-size="8.8" text-anchor="middle" font-weight="normal" fill="#231f20" stroke="#231f20" stroke-width="0.14">80</text>
<text transform="translate(374.60 260.60) rotate(-90)" font-size="9.6" text-anchor="middle" font-weight="normal" fill="#231f20" stroke="#231f20" stroke-width="0.3" textLength="46" lengthAdjust="spacingAndGlyphs">Thrombin (nM)</text>
<text transform="translate(447.80 336.60)" font-size="10.0" text-anchor="middle" font-weight="normal" fill="#231f20" stroke="#231f20" stroke-width="0.3" textLength="33.5" lengthAdjust="spacingAndGlyphs">Time (min)</text>
<line x1="468.10" y1="224.80" x2="477.90" y2="224.80" stroke="#231f20" stroke-width="1.4" />
<text transform="translate(481.00 227.40)" font-size="8.0" text-anchor="start" font-weight="normal" fill="#231f20" stroke="#231f20" stroke-width="0.08">0.00 A5</text>
<line x1="468.10" y1="236.75" x2="477.90" y2="236.75" stroke="#3aa56a" stroke-width="1.4" />
<text transform="translate(481.00 239.35)" font-size="8.0" text-anchor="start" font-weight="normal" fill="#231f20" stroke="#231f20" stroke-width="0.08">18.50 A5</text>
<line x1="468.10" y1="248.70" x2="477.90" y2="248.70" stroke="#4a3a9a" stroke-width="1.4" />
<text transform="translate(481.00 251.30)" font-size="8.0" text-anchor="start" font-weight="normal" fill="#231f20" stroke="#231f20" stroke-width="0.08">37.50 A5</text>
<line x1="468.10" y1="260.65" x2="477.90" y2="260.65" stroke="#e8332e" stroke-width="1.4" />
<text transform="translate(481.00 263.25)" font-size="8.0" text-anchor="start" font-weight="normal" fill="#231f20" stroke="#231f20" stroke-width="0.08">75.00 A5</text>
<text transform="translate(32.70 368.60)" font-size="10" text-anchor="start" font-weight="normal" fill="#231f20" letter-spacing="0.18" stroke="#231f20" stroke-width="0.2">35% RBC (+ A5) + PRP</text>
<rect x="49.65" y="437.68" width="13.10" height="40.52" fill="#171717"/>
<line x1="56.20" y1="437.68" x2="56.20" y2="431.84" stroke="#171717" stroke-width="1.05" />
<line x1="53.10" y1="431.84" x2="59.30" y2="431.84" stroke="#171717" stroke-width="1.05" />
<rect x="69.85" y="447.90" width="13.10" height="30.30" fill="#36a836"/>
<line x1="76.40" y1="447.90" x2="76.40" y2="445.66" stroke="#36a836" stroke-width="1.05" />
<line x1="73.30" y1="445.66" x2="79.50" y2="445.66" stroke="#36a836" stroke-width="1.05" />
<rect x="90.35" y="451.49" width="13.10" height="26.71" fill="#1c4e92"/>
<line x1="96.90" y1="451.49" x2="96.90" y2="449.34" stroke="#1c4e92" stroke-width="1.05" />
<line x1="93.80" y1="449.34" x2="100.00" y2="449.34" stroke="#1c4e92" stroke-width="1.05" />
<rect x="110.85" y="454.87" width="13.10" height="23.33" fill="#d9102e"/>
<line x1="117.40" y1="454.87" x2="117.40" y2="451.80" stroke="#d9102e" stroke-width="1.05" />
<line x1="114.30" y1="451.80" x2="120.50" y2="451.80" stroke="#d9102e" stroke-width="1.05" />
<line x1="42.50" y1="383.50" x2="42.50" y2="479.00" stroke="#231f20" stroke-width="1.0" />
<line x1="39.50" y1="478.50" x2="42.50" y2="478.50" stroke="#231f20" stroke-width="1.0" />
<text transform="translate(35.80 481.20) scale(0.93 1)" font-size="8.8" text-anchor="end" font-weight="normal" fill="#231f20" stroke="#231f20" stroke-width="0.14">0</text>
<line x1="39.50" y1="447.50" x2="42.50" y2="447.50" stroke="#231f20" stroke-width="1.0" />
<text transform="translate(35.80 450.50) scale(0.93 1)" font-size="8.8" text-anchor="end" font-weight="normal" fill="#231f20" stroke="#231f20" stroke-width="0.14">100</text>
<line x1="39.50" y1="416.50" x2="42.50" y2="416.50" stroke="#231f20" stroke-width="1.0" />
<text transform="translate(35.80 419.80) scale(0.93 1)" font-size="8.8" text-anchor="end" font-weight="normal" fill="#231f20" stroke="#231f20" stroke-width="0.14">200</text>
<line x1="39.50" y1="386.50" x2="42.50" y2="386.50" stroke="#231f20" stroke-width="1.0" />
<text transform="translate(35.80 389.10) scale(0.93 1)" font-size="8.8" text-anchor="end" font-weight="normal" fill="#231f20" stroke="#231f20" stroke-width="0.14">300</text>
<line x1="42.00" y1="478.50" x2="130.90" y2="478.50" stroke="#231f20" stroke-width="1.0" />
<line x1="56.50" y1="478.50" x2="56.50" y2="482.00" stroke="#231f20" stroke-width="1.0" />
<line x1="76.50" y1="478.50" x2="76.50" y2="482.00" stroke="#231f20" stroke-width="1.0" />
<line x1="96.50" y1="478.50" x2="96.50" y2="482.00" stroke="#231f20" stroke-width="1.0" />
<line x1="117.50" y1="478.50" x2="117.50" y2="482.00" stroke="#231f20" stroke-width="1.0" />
<line x1="57.90" y1="393.50" x2="77.90" y2="393.50" stroke="#6a6a6a" stroke-width="1.0" />
<circle cx="67.70" cy="389.40" r="1.05" fill="#231f20"/>
<line x1="57.90" y1="405.50" x2="97.10" y2="405.50" stroke="#6a6a6a" stroke-width="1.0" />
<circle cx="75.78" cy="400.80" r="1.05" fill="#231f20"/>
<circle cx="79.12" cy="400.80" r="1.05" fill="#231f20"/>
<line x1="57.90" y1="416.50" x2="117.90" y2="416.50" stroke="#6a6a6a" stroke-width="1.0" />
<circle cx="84.55" cy="412.60" r="1.05" fill="#231f20"/>
<circle cx="87.90" cy="412.60" r="1.05" fill="#231f20"/>
<circle cx="91.25" cy="412.60" r="1.05" fill="#231f20"/>
<text transform="translate(14.80 430.70) rotate(-90)" font-size="9.6" text-anchor="middle" font-weight="normal" fill="#231f20" stroke="#231f20" stroke-width="0.3" textLength="32.5" lengthAdjust="spacingAndGlyphs">Peak (nM)</text>
<text transform="translate(59.70 489.80) rotate(-45)" font-size="8.0" text-anchor="end" font-weight="normal" fill="#231f20" letter-spacing="0.25" stroke="#231f20" stroke-width="0.06">0.00 A5</text>
<text transform="translate(79.90 489.80) rotate(-45)" font-size="8.0" text-anchor="end" font-weight="normal" fill="#231f20" letter-spacing="0.25" stroke="#231f20" stroke-width="0.06">18.75 A5</text>
<text transform="translate(100.40 489.80) rotate(-45)" font-size="8.0" text-anchor="end" font-weight="normal" fill="#231f20" letter-spacing="0.25" stroke="#231f20" stroke-width="0.06">37.50 A5</text>
<text transform="translate(120.90 489.80) rotate(-45)" font-size="8.0" text-anchor="end" font-weight="normal" fill="#231f20" letter-spacing="0.25" stroke="#231f20" stroke-width="0.06">75.00 A5</text>
<text transform="translate(228.20 368.60)" font-size="10" text-anchor="start" font-weight="normal" fill="#231f20" letter-spacing="0.03" stroke="#231f20" stroke-width="0.2">Reconst. ∆ RBC</text>
<rect x="223.10" y="439.57" width="7.70" height="38.43" fill="#171717"/>
<line x1="226.95" y1="439.57" x2="226.95" y2="436.66" stroke="#171717" stroke-width="1.05" />
<line x1="224.35" y1="436.66" x2="229.55" y2="436.66" stroke="#171717" stroke-width="1.05" />
<rect x="235.20" y="437.72" width="7.70" height="40.28" fill="#171717"/>
<rect x="254.00" y="424.47" width="7.70" height="53.53" fill="#d9102e"/>
<line x1="257.85" y1="424.47" x2="257.85" y2="422.22" stroke="#d9102e" stroke-width="1.05" />
<line x1="255.25" y1="422.22" x2="260.45" y2="422.22" stroke="#d9102e" stroke-width="1.05" />
<rect x="266.00" y="436.66" width="7.70" height="41.34" fill="#d9102e"/>
<rect x="284.80" y="418.11" width="7.70" height="59.89" fill="#1c4e92"/>
<line x1="288.65" y1="418.11" x2="288.65" y2="413.61" stroke="#1c4e92" stroke-width="1.05" />
<line x1="286.05" y1="413.61" x2="291.25" y2="413.61" stroke="#1c4e92" stroke-width="1.05" />
<rect x="296.70" y="437.06" width="7.70" height="40.94" fill="#1c4e92"/>
<line x1="300.55" y1="437.06" x2="300.55" y2="431.62" stroke="#1c4e92" stroke-width="1.05" />
<line x1="297.95" y1="431.62" x2="303.15" y2="431.62" stroke="#1c4e92" stroke-width="1.05" />
<line x1="219.50" y1="383.40" x2="219.50" y2="479.00" stroke="#231f20" stroke-width="1.0" />
<line x1="216.50" y1="478.50" x2="219.50" y2="478.50" stroke="#231f20" stroke-width="1.0" />
<text transform="translate(212.80 481.00) scale(0.93 1)" font-size="8.8" text-anchor="end" font-weight="normal" fill="#231f20" stroke="#231f20" stroke-width="0.14">0</text>
<line x1="216.50" y1="451.50" x2="219.50" y2="451.50" stroke="#231f20" stroke-width="1.0" />
<text transform="translate(212.80 454.50) scale(0.93 1)" font-size="8.8" text-anchor="end" font-weight="normal" fill="#231f20" stroke="#231f20" stroke-width="0.14">100</text>
<line x1="216.50" y1="425.50" x2="219.50" y2="425.50" stroke="#231f20" stroke-width="1.0" />
<text transform="translate(212.80 428.00) scale(0.93 1)" font-size="8.8" text-anchor="end" font-weight="normal" fill="#231f20" stroke="#231f20" stroke-width="0.14">200</text>
<line x1="216.50" y1="398.50" x2="219.50" y2="398.50" stroke="#231f20" stroke-width="1.0" />
<text transform="translate(212.80 401.50) scale(0.93 1)" font-size="8.8" text-anchor="end" font-weight="normal" fill="#231f20" stroke="#231f20" stroke-width="0.14">300</text>
<line x1="219.00" y1="478.50" x2="308.00" y2="478.50" stroke="#231f20" stroke-width="1.0" />
<line x1="227.50" y1="478.50" x2="227.50" y2="482.00" stroke="#231f20" stroke-width="1.0" />
<line x1="238.50" y1="478.50" x2="238.50" y2="482.00" stroke="#231f20" stroke-width="1.0" />
<line x1="257.50" y1="478.50" x2="257.50" y2="482.00" stroke="#231f20" stroke-width="1.0" />
<line x1="269.50" y1="478.50" x2="269.50" y2="482.00" stroke="#231f20" stroke-width="1.0" />
<line x1="288.50" y1="478.50" x2="288.50" y2="482.00" stroke="#231f20" stroke-width="1.0" />
<line x1="300.50" y1="478.50" x2="300.50" y2="482.00" stroke="#231f20" stroke-width="1.0" />
<line x1="226.50" y1="395.50" x2="288.80" y2="395.50" stroke="#555" stroke-width="1.0" />
<circle cx="253.08" cy="391.00" r="1.05" fill="#231f20"/>
<circle cx="256.43" cy="391.00" r="1.05" fill="#231f20"/>
<circle cx="259.78" cy="391.00" r="1.05" fill="#231f20"/>
<circle cx="263.12" cy="391.00" r="1.05" fill="#231f20"/>
<line x1="227.30" y1="408.50" x2="257.00" y2="408.50" stroke="#555" stroke-width="1.0" />
<circle cx="240.42" cy="404.10" r="1.05" fill="#231f20"/>
<circle cx="243.78" cy="404.10" r="1.05" fill="#231f20"/>
<line x1="258.00" y1="418.50" x2="269.60" y2="418.50" stroke="#555" stroke-width="1.0" />
<circle cx="262.12" cy="414.50" r="1.05" fill="#231f20"/>
<circle cx="265.48" cy="414.50" r="1.05" fill="#231f20"/>
<line x1="288.80" y1="409.50" x2="300.80" y2="409.50" stroke="#555" stroke-width="1.0" />
<circle cx="291.65" cy="405.30" r="1.05" fill="#231f20"/>
<circle cx="295.00" cy="405.30" r="1.05" fill="#231f20"/>
<circle cx="298.35" cy="405.30" r="1.05" fill="#231f20"/>
<text transform="translate(191.80 430.70) rotate(-90)" font-size="9.6" text-anchor="middle" font-weight="normal" fill="#231f20" stroke="#231f20" stroke-width="0.3" textLength="32.5" lengthAdjust="spacingAndGlyphs">Peak (nM)</text>
<text transform="translate(230.70 489.60) rotate(-45)" font-size="8.0" text-anchor="end" font-weight="normal" fill="#231f20" letter-spacing="0.25" stroke="#231f20" stroke-width="0.06">Control</text>
<text transform="translate(242.30 489.60) rotate(-45)" font-size="8.0" text-anchor="end" font-weight="normal" fill="#231f20" letter-spacing="0.25" stroke="#231f20" stroke-width="0.06">A5</text>
<text transform="translate(261.20 489.60) rotate(-45)" font-size="8.0" text-anchor="end" font-weight="normal" fill="#231f20" letter-spacing="0.25" stroke="#231f20" stroke-width="0.06">Control</text>
<text transform="translate(272.70 489.60) rotate(-45)" font-size="8.0" text-anchor="end" font-weight="normal" fill="#231f20" letter-spacing="0.25" stroke="#231f20" stroke-width="0.06">A5</text>
<text transform="translate(292.30 489.60) rotate(-45)" font-size="8.0" text-anchor="end" font-weight="normal" fill="#231f20" letter-spacing="0.25" stroke="#231f20" stroke-width="0.06">Control</text>
<text transform="translate(303.90 489.60) rotate(-45)" font-size="8.0" text-anchor="end" font-weight="normal" fill="#231f20" letter-spacing="0.25" stroke="#231f20" stroke-width="0.06">A5</text>
<rect x="298" y="372.10" width="6.8" height="6.2" fill="#1c4e92"/>
<text transform="translate(308.10 378.20) scale(0.97 1)" font-size="8.4" text-anchor="start" font-weight="normal" fill="#231f20" stroke="#231f20" stroke-width="0.1">40% RBC</text>
<rect x="298" y="381.90" width="6.8" height="6.2" fill="#d9102e"/>
<text transform="translate(308.10 388.00) scale(0.97 1)" font-size="8.4" text-anchor="start" font-weight="normal" fill="#231f20" stroke="#231f20" stroke-width="0.1">20% RBC</text>
<rect x="298" y="391.70" width="6.8" height="6.2" fill="#171717"/>
<text transform="translate(308.10 397.80) scale(0.97 1)" font-size="8.4" text-anchor="start" font-weight="normal" fill="#231f20" stroke="#231f20" stroke-width="0.1">0% RBC</text>
<text transform="translate(392.00 368.60)" font-size="10" text-anchor="start" font-weight="normal" fill="#231f20" letter-spacing="0.18" stroke="#231f20" stroke-width="0.2">35% RBC (+ A5) + PPP</text>
<rect x="408.80" y="446.39" width="13.10" height="31.81" fill="#171717"/>
<line x1="415.35" y1="446.39" x2="415.35" y2="440.75" stroke="#171717" stroke-width="1.05" />
<line x1="412.25" y1="440.75" x2="418.45" y2="440.75" stroke="#171717" stroke-width="1.05" />
<rect x="429.20" y="457.02" width="13.10" height="21.18" fill="#36a836"/>
<line x1="435.75" y1="457.02" x2="435.75" y2="445.50" stroke="#36a836" stroke-width="1.05" />
<line x1="432.65" y1="445.50" x2="438.85" y2="445.50" stroke="#36a836" stroke-width="1.05" />
<rect x="449.80" y="466.10" width="13.10" height="12.10" fill="#1c4e92"/>
<line x1="456.35" y1="466.10" x2="456.35" y2="458.55" stroke="#1c4e92" stroke-width="1.05" />
<line x1="453.25" y1="458.55" x2="459.45" y2="458.55" stroke="#1c4e92" stroke-width="1.05" />
<rect x="470.00" y="469.11" width="13.10" height="9.09" fill="#d9102e"/>
<line x1="476.55" y1="469.11" x2="476.55" y2="464.08" stroke="#d9102e" stroke-width="1.05" />
<line x1="473.45" y1="464.08" x2="479.65" y2="464.08" stroke="#d9102e" stroke-width="1.05" />
<line x1="401.50" y1="383.50" x2="401.50" y2="479.00" stroke="#231f20" stroke-width="1.0" />
<line x1="398.50" y1="478.50" x2="401.50" y2="478.50" stroke="#231f20" stroke-width="1.0" />
<text transform="translate(395.30 481.20) scale(0.93 1)" font-size="8.8" text-anchor="end" font-weight="normal" fill="#231f20" stroke="#231f20" stroke-width="0.14">0</text>
<line x1="398.50" y1="447.50" x2="401.50" y2="447.50" stroke="#231f20" stroke-width="1.0" />
<text transform="translate(395.30 450.50) scale(0.93 1)" font-size="8.8" text-anchor="end" font-weight="normal" fill="#231f20" stroke="#231f20" stroke-width="0.14">100</text>
<line x1="398.50" y1="416.50" x2="401.50" y2="416.50" stroke="#231f20" stroke-width="1.0" />
<text transform="translate(395.30 419.80) scale(0.93 1)" font-size="8.8" text-anchor="end" font-weight="normal" fill="#231f20" stroke="#231f20" stroke-width="0.14">200</text>
<line x1="398.50" y1="386.50" x2="401.50" y2="386.50" stroke="#231f20" stroke-width="1.0" />
<text transform="translate(395.30 389.10) scale(0.93 1)" font-size="8.8" text-anchor="end" font-weight="normal" fill="#231f20" stroke="#231f20" stroke-width="0.14">300</text>
<line x1="401.00" y1="478.50" x2="490.30" y2="478.50" stroke="#231f20" stroke-width="1.0" />
<line x1="415.50" y1="478.50" x2="415.50" y2="482.00" stroke="#231f20" stroke-width="1.0" />
<line x1="435.50" y1="478.50" x2="435.50" y2="482.00" stroke="#231f20" stroke-width="1.0" />
<line x1="456.50" y1="478.50" x2="456.50" y2="482.00" stroke="#231f20" stroke-width="1.0" />
<line x1="476.50" y1="478.50" x2="476.50" y2="482.00" stroke="#231f20" stroke-width="1.0" />
<line x1="416.20" y1="419.50" x2="477.30" y2="419.50" stroke="#555" stroke-width="1.0" />
<circle cx="446.50" cy="414.60" r="1.05" fill="#231f20"/>
<line x1="416.20" y1="434.50" x2="457.50" y2="434.50" stroke="#777" stroke-width="1.0" />
<circle cx="436.90" cy="430.40" r="1.05" fill="#231f20"/>
<text transform="translate(374.00 430.70) rotate(-90)" font-size="9.6" text-anchor="middle" font-weight="normal" fill="#231f20" stroke="#231f20" stroke-width="0.3" textLength="32.5" lengthAdjust="spacingAndGlyphs">Peak (nM)</text>
<text transform="translate(418.50 489.80) rotate(-45)" font-size="8.0" text-anchor="end" font-weight="normal" fill="#231f20" letter-spacing="0.25" stroke="#231f20" stroke-width="0.06">0.00 A5</text>
<text transform="translate(438.90 489.80) rotate(-45)" font-size="8.0" text-anchor="end" font-weight="normal" fill="#231f20" letter-spacing="0.25" stroke="#231f20" stroke-width="0.06">18.75 A5</text>
<text transform="translate(459.70 489.80) rotate(-45)" font-size="8.0" text-anchor="end" font-weight="normal" fill="#231f20" letter-spacing="0.25" stroke="#231f20" stroke-width="0.06">37.50 A5</text>
<text transform="translate(480.00 489.80) rotate(-45)" font-size="8.0" text-anchor="end" font-weight="normal" fill="#231f20" letter-spacing="0.25" stroke="#231f20" stroke-width="0.06">75.00 A5</text>
<rect x="254.50" y="73.40" width="7.30" height="33.60" rx="0.8" fill="#d64545" stroke="#2b2b2b" stroke-width="0.9"/>
<rect x="251.90" y="64.50" width="12.60" height="9.90" rx="2.2" fill="#1f4f8f" stroke="#2b2b2b" stroke-width="0.9"/>
<rect x="418.40" y="78.20" width="8.20" height="33.60" rx="0.8" fill="#d64545" stroke="#2b2b2b" stroke-width="0.9"/>
<rect x="415.90" y="68.90" width="13.10" height="10.30" rx="2.2" fill="#1f4f8f" stroke="#2b2b2b" stroke-width="0.9"/>
<path d="M296.30,42.40 L296.30,77.20 Q296.30,79.40 298.50,79.40 L302.70,79.40 Q304.90,79.40 304.90,77.20 L304.90,42.40 Z" fill="#fff" stroke="none"/>
<path d="M296.30,57.00 L296.30,77.20 Q296.30,79.40 298.50,79.40 L302.70,79.40 Q304.90,79.40 304.90,77.20 L304.90,57.00 Z" fill="#f3c232" stroke="none"/>
<ellipse cx="300.60" cy="57.30" rx="3.90" ry="1.0" fill="none" stroke="#2b2b2b" stroke-width="0.6" opacity="0.55"/>
<path d="M296.30,42.40 L296.30,77.20 Q296.30,79.40 298.50,79.40 L302.70,79.40 Q304.90,79.40 304.90,77.20 L304.90,42.40" fill="none" stroke="#2b2b2b" stroke-width="1.05"/>
<ellipse cx="300.60" cy="42.40" rx="4.30" ry="1.2" fill="#fff" stroke="#2b2b2b" stroke-width="0.9"/>
<path d="M380.00,42.20 L380.00,76.90 Q380.00,79.10 382.20,79.10 L386.40,79.10 Q388.60,79.10 388.60,76.90 L388.60,42.20 Z" fill="#fff" stroke="none"/>
<path d="M380.00,57.60 L380.00,76.90 Q380.00,79.10 382.20,79.10 L386.40,79.10 Q388.60,79.10 388.60,76.90 L388.60,57.60 Z" fill="#f3c232" stroke="none"/>
<ellipse cx="384.30" cy="57.90" rx="3.90" ry="1.0" fill="none" stroke="#2b2b2b" stroke-width="0.6" opacity="0.55"/>
<path d="M380.00,42.20 L380.00,76.90 Q380.00,79.10 382.20,79.10 L386.40,79.10 Q388.60,79.10 388.60,76.90 L388.60,42.20" fill="none" stroke="#2b2b2b" stroke-width="1.05"/>
<ellipse cx="384.30" cy="42.20" rx="4.30" ry="1.2" fill="#fff" stroke="#2b2b2b" stroke-width="0.9"/>
<path d="M295.90,101.80 L295.90,136.00 Q295.90,138.20 298.10,138.20 L302.30,138.20 Q304.50,138.20 304.50,136.00 L304.50,101.80 Z" fill="#fff" stroke="none"/>
<path d="M295.90,116.60 L295.90,136.00 Q295.90,138.20 298.10,138.20 L302.30,138.20 Q304.50,138.20 304.50,136.00 L304.50,116.60 Z" fill="#d64545" stroke="none"/>
<ellipse cx="300.20" cy="116.90" rx="3.90" ry="1.0" fill="none" stroke="#2b2b2b" stroke-width="0.6" opacity="0.55"/>
<path d="M295.90,101.80 L295.90,136.00 Q295.90,138.20 298.10,138.20 L302.30,138.20 Q304.50,138.20 304.50,136.00 L304.50,101.80" fill="none" stroke="#2b2b2b" stroke-width="1.05"/>
<ellipse cx="300.20" cy="101.80" rx="4.30" ry="1.2" fill="#fff" stroke="#2b2b2b" stroke-width="0.9"/>
<path d="M380.00,101.80 L380.00,136.00 Q380.00,138.20 382.20,138.20 L386.40,138.20 Q388.60,138.20 388.60,136.00 L388.60,101.80 Z" fill="#fff" stroke="none"/>
<path d="M380.00,117.00 L380.00,136.00 Q380.00,138.20 382.20,138.20 L386.40,138.20 Q388.60,138.20 388.60,136.00 L388.60,117.00 Z" fill="#d64545" stroke="none"/>
<ellipse cx="384.30" cy="117.30" rx="3.90" ry="1.0" fill="none" stroke="#2b2b2b" stroke-width="0.6" opacity="0.55"/>
<path d="M380.00,101.80 L380.00,136.00 Q380.00,138.20 382.20,138.20 L386.40,138.20 Q388.60,138.20 388.60,136.00 L388.60,101.80" fill="none" stroke="#2b2b2b" stroke-width="1.05"/>
<ellipse cx="384.30" cy="101.80" rx="4.30" ry="1.2" fill="#fff" stroke="#2b2b2b" stroke-width="0.9"/>
<line x1="270.30" y1="76.60" x2="281.66" y2="66.93" stroke="#231f20" stroke-width="1.05" />
<polygon points="285.70,63.50 283.10,69.39 279.47,65.13" fill="#231f20"/>
<line x1="270.40" y1="99.60" x2="279.93" y2="110.08" stroke="#231f20" stroke-width="1.05" />
<polygon points="283.50,114.00 277.53,111.59 281.67,107.83" fill="#231f20"/>
<line x1="312.70" y1="58.50" x2="361.50" y2="58.50" stroke="#231f20" stroke-width="1.05" />
<polygon points="366.80,58.50 361.00,61.30 361.00,55.70" fill="#231f20"/>
<line x1="339.60" y1="121.80" x2="365.50" y2="121.80" stroke="#231f20" stroke-width="1.05" />
<polygon points="370.80,121.80 365.00,124.60 365.00,119.00" fill="#231f20"/>
<line x1="392.00" y1="56.90" x2="402.87" y2="69.05" stroke="#231f20" stroke-width="1.05" />
<polygon points="406.40,73.00 400.45,70.54 404.62,66.81" fill="#231f20"/>
<line x1="393.50" y1="117.00" x2="404.95" y2="103.00" stroke="#231f20" stroke-width="1.05" />
<polygon points="408.30,98.90 406.80,105.16 402.46,101.62" fill="#231f20"/>
<text transform="translate(302.80 34.40) scale(0.9 1)" font-size="9.3" text-anchor="middle" font-weight="normal" fill="#231f20" stroke="#231f20" stroke-width="0.12">PRP</text>
<text transform="translate(254.60 132.20) scale(0.9 1)" font-size="9.3" text-anchor="middle" font-weight="normal" fill="#231f20" stroke="#231f20" stroke-width="0.12">WB</text>
<text transform="translate(321.70 124.40) scale(0.9 1)" font-size="9.3" text-anchor="middle" font-weight="normal" fill="#231f20" stroke="#231f20" stroke-width="0.12">+ A5</text>
<text transform="translate(354.90 113.00) scale(0.9 1)" font-size="9.3" text-anchor="middle" font-weight="normal" fill="#231f20" stroke="#231f20" stroke-width="0.12">Wash</text>
<text transform="translate(299.60 159.00) scale(0.9 1)" font-size="9.3" text-anchor="middle" font-weight="normal" fill="#231f20" stroke="#231f20" stroke-width="0.12">Washed</text>
<text transform="translate(299.90 168.00) scale(0.9 1)" font-size="9.3" text-anchor="middle" font-weight="normal" fill="#231f20" stroke="#231f20" stroke-width="0.12">RBC</text>
<text transform="translate(423.40 146.20) scale(0.9 1)" font-size="9.3" text-anchor="middle" font-weight="normal" fill="#231f20" stroke="#231f20" stroke-width="0.12">Reconst.</text>
<text transform="translate(423.50 156.20) scale(0.9 1)" font-size="9.3" text-anchor="middle" font-weight="normal" fill="#231f20" stroke="#231f20" stroke-width="0.12">∆ RBC</text>
<rect x="0.5" y="0.5" width="519" height="521" fill="none" stroke="#4a4a4a" stroke-width="1"/>
</svg></body></html>
